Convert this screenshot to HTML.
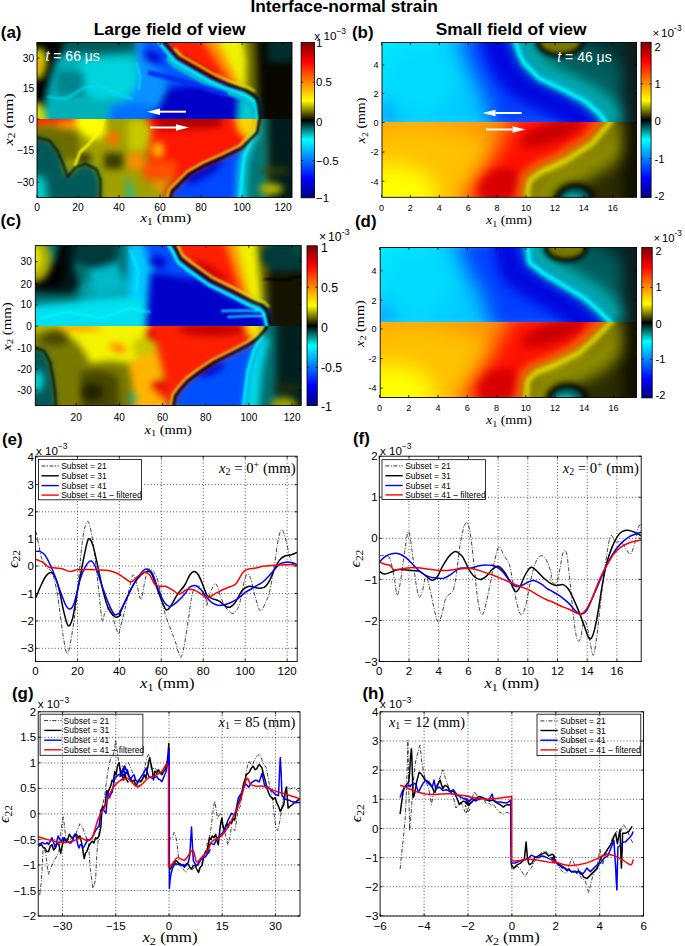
<!DOCTYPE html>
<html><head><meta charset="utf-8"><style>
html,body{margin:0;padding:0;background:#fff;width:685px;height:946px;overflow:hidden}
svg{display:block}
</style></head><body>
<svg width="685" height="946" viewBox="0 0 685 946"><defs><clipPath id="cl1"><rect x="37" y="42.5" width="255" height="76.6"/></clipPath><filter id="bl3_5" x="-20%" y="-20%" width="140%" height="140%" color-interpolation-filters="sRGB"><feGaussianBlur stdDeviation="3.5"/></filter><filter id="bl1_0" x="-20%" y="-20%" width="140%" height="140%" color-interpolation-filters="sRGB"><feGaussianBlur stdDeviation="1.0"/></filter><clipPath id="cl2"><rect x="37" y="119.1" width="255" height="78.4"/></clipPath><linearGradient id="cb1" x1="0" y1="0" x2="0" y2="1"><stop offset="0.0000" stop-color="#800000"/><stop offset="0.1250" stop-color="#ff0000"/><stop offset="0.3750" stop-color="#ffff00"/><stop offset="0.5000" stop-color="#000000"/><stop offset="0.6250" stop-color="#00ffff"/><stop offset="0.8750" stop-color="#0000ff"/><stop offset="1.0000" stop-color="#000080"/></linearGradient><clipPath id="cl3"><rect x="382" y="42.5" width="254.5" height="79.5"/></clipPath><filter id="bl10" x="-20%" y="-20%" width="140%" height="140%" color-interpolation-filters="sRGB"><feGaussianBlur stdDeviation="10"/></filter><filter id="bl6" x="-20%" y="-20%" width="140%" height="140%" color-interpolation-filters="sRGB"><feGaussianBlur stdDeviation="6"/></filter><filter id="bl7" x="-20%" y="-20%" width="140%" height="140%" color-interpolation-filters="sRGB"><feGaussianBlur stdDeviation="7"/></filter><filter id="bl2_5" x="-20%" y="-20%" width="140%" height="140%" color-interpolation-filters="sRGB"><feGaussianBlur stdDeviation="2.5"/></filter><filter id="bl2" x="-20%" y="-20%" width="140%" height="140%" color-interpolation-filters="sRGB"><feGaussianBlur stdDeviation="2"/></filter><filter id="bl0_8" x="-20%" y="-20%" width="140%" height="140%" color-interpolation-filters="sRGB"><feGaussianBlur stdDeviation="0.8"/></filter><clipPath id="cl4"><rect x="382" y="122.0" width="254.5" height="75.30000000000001"/></clipPath><filter id="bl5" x="-20%" y="-20%" width="140%" height="140%" color-interpolation-filters="sRGB"><feGaussianBlur stdDeviation="5"/></filter><filter id="bl4" x="-20%" y="-20%" width="140%" height="140%" color-interpolation-filters="sRGB"><feGaussianBlur stdDeviation="4"/></filter><filter id="bl3" x="-20%" y="-20%" width="140%" height="140%" color-interpolation-filters="sRGB"><feGaussianBlur stdDeviation="3"/></filter><linearGradient id="cb2" x1="0" y1="0" x2="0" y2="1"><stop offset="0.0000" stop-color="#800000"/><stop offset="0.1250" stop-color="#ff0000"/><stop offset="0.3750" stop-color="#ffff00"/><stop offset="0.5000" stop-color="#000000"/><stop offset="0.6250" stop-color="#00ffff"/><stop offset="0.8750" stop-color="#0000ff"/><stop offset="1.0000" stop-color="#000080"/></linearGradient><clipPath id="cl5"><rect x="35.3" y="245.6" width="265.9" height="80.4"/></clipPath><clipPath id="cl6"><rect x="35.3" y="326.0" width="265.9" height="79.5"/></clipPath><linearGradient id="cb3" x1="0" y1="0" x2="0" y2="1"><stop offset="0.0000" stop-color="#800000"/><stop offset="0.1250" stop-color="#ff0000"/><stop offset="0.3750" stop-color="#ffff00"/><stop offset="0.5000" stop-color="#000000"/><stop offset="0.6250" stop-color="#00ffff"/><stop offset="0.8750" stop-color="#0000ff"/><stop offset="1.0000" stop-color="#000080"/></linearGradient><clipPath id="cl7"><rect x="380.2" y="247.5" width="256.3" height="74.39999999999998"/></clipPath><clipPath id="cl8"><rect x="380.2" y="321.9" width="256.3" height="75.60000000000002"/></clipPath><linearGradient id="cb4" x1="0" y1="0" x2="0" y2="1"><stop offset="0.0000" stop-color="#800000"/><stop offset="0.1250" stop-color="#ff0000"/><stop offset="0.3750" stop-color="#ffff00"/><stop offset="0.5000" stop-color="#000000"/><stop offset="0.6250" stop-color="#00ffff"/><stop offset="0.8750" stop-color="#0000ff"/><stop offset="1.0000" stop-color="#000080"/></linearGradient><clipPath id="cl9"><rect x="35.5" y="456.2" width="261.7" height="205.3"/></clipPath><clipPath id="cl10"><rect x="379.3" y="456.2" width="261.90000000000003" height="205.3"/></clipPath><clipPath id="cl11"><rect x="38.2" y="711.8" width="261.8" height="204.20000000000005"/></clipPath><clipPath id="cl12"><rect x="380.1" y="711.8" width="263.4" height="204.20000000000005"/></clipPath></defs><text x="250.50" y="12.30" font-size="17.3" text-anchor="start" font-weight="bold" font-style="normal" font-family="Liberation Sans, sans-serif" fill="#000" >Interface-normal strain</text>
<text x="93.70" y="34.70" font-size="17.4" text-anchor="start" font-weight="bold" font-style="normal" font-family="Liberation Sans, sans-serif" fill="#000" >Large field of view</text>
<text x="435.70" y="35.10" font-size="17.4" text-anchor="start" font-weight="bold" font-style="normal" font-family="Liberation Sans, sans-serif" fill="#000" >Small field of view</text>
<text x="0.80" y="37.50" font-size="16.9" text-anchor="start" font-weight="bold" font-style="normal" font-family="Liberation Sans, sans-serif" fill="#000" >(a)</text>
<g clip-path="url(#cl1)"><g filter="url(#bl3_5)"><rect x="25" y="30.5" width="279" height="100.6" fill="#00b0b8"/><polygon points="55,30.5 150,30.5 150,50 100,54 55,53" fill="#005a5a"/><polygon points="80,62 120,58 136,62 140,90 125,99 95,99 78,86" fill="#00d4dc"/><polygon points="56,70 84,72 84,95 56,95" fill="#00848c"/><polygon points="25,30.5 63,30.5 62,52 55,62 50,78 47,90 45,100 44,112 44,131.1 25,131.1" fill="#000000"/><polygon points="25,50 42,48 47,56 46,68 42,78 25,80" fill="#d2d200"/><polygon points="25,59 39,59 40,66 38,73 25,73" fill="#ff8c00"/><polygon points="25,103 40,102 45,112 47,131.1 25,131.1" fill="#dcdc00"/><polygon points="134,30.5 150,30.5 160,60 166,85 150,131.1 104,131.1 110,106 128,99 138,82 137,60" fill="#0a90ff"/><polygon points="143,30.5 161,38.5 172.5,52 178,58 193,66.6 212,77.4 228,84.5 245.5,90.4 252,94 256.7,97.9 258.5,107 260.4,122.1 140,131.1 140,112 160,106 168,92 165,76 152,64 143,52" fill="#0058ff"/><polygon points="110,131.1 112,108 130,104 148,104 150,131.1" fill="#0070ff"/><ellipse cx="153" cy="57" rx="10" ry="5" fill="#0000d0" transform="rotate(20 153 57)"/><polygon points="168,88 200,84 236,95 245,110 245,131.1 150,131.1 158,110" fill="#0000c8"/><polygon points="158,30.5 202,30.5 240,86 245.5,90.4 228,84.5 212,77.4 193,66.6 178,58 172.5,52 161,38.5" fill="#ff2000"/><polygon points="196,30.5 214,30.5 244,82 240,88 232,85" fill="#ff9000"/><polygon points="212,30.5 246,30.5 248,60 247,93 241,88" fill="#f0f000"/><polygon points="242,30.5 258,30.5 258,99 246,94 247,60" fill="#6a6a00"/><polygon points="256,30.5 304,30.5 304,131.1 260,131.1 258,99" fill="#080800"/><rect x="268" y="30.5" width="36" height="31.5" fill="#002e2e"/><polygon points="238,96 256,99 259,131.1 236,131.1" fill="#00c8d0"/></g><g filter="url(#bl1_0)"><polyline points="183,56 200,66 214,74" fill="none" stroke="#d00000" stroke-width="5" stroke-linejoin="round" stroke-linecap="round"/><polyline points="168.5,59 174,65 189,73.6 208,84.4 224,91.5 241.5,97.4 248,101 252.7,104.9" fill="none" stroke="#00b8d8" stroke-width="5" stroke-linejoin="round" stroke-linecap="round"/><polyline points="158.5,42.1 170.0,55.6 175.5,61.6 190.5,70.19999999999999 209.5,81.0 225.5,88.1 243.0,94.0 249.5,97.6 254.2,101.5 256,104 257,121.1" fill="none" stroke="#00ffff" stroke-width="2.6" stroke-linejoin="round" stroke-linecap="round"/><polyline points="174.7,48.8 180.2,54.8 195.2,63.39999999999999 214.2,74.2 230.2,81.3 247.7,87.2 254.2,90.8" fill="none" stroke="#f0e000" stroke-width="2.0" stroke-linejoin="round" stroke-linecap="round"/><polyline points="150,73 175,79 200,86 225,94" fill="none" stroke="#0030f0" stroke-width="5" stroke-linejoin="round" stroke-linecap="round"/><polyline points="48,97 65.5,99 84.4,87.5 99.6,85.7 116.7,93.2 131.9,99" fill="none" stroke="#00e0ff" stroke-width="1.6" stroke-linejoin="round" stroke-linecap="round"/><polyline points="136,62 140,75 139,89" fill="none" stroke="#00e0ff" stroke-width="1.6" stroke-linejoin="round" stroke-linecap="round"/><polyline points="161,38.5 172.5,52 178,58 193,66.6 212,77.4 228,84.5 245.5,90.4 252,94 256.7,97.9 258.5,107 260.4,122.1" fill="none" stroke="#000000" stroke-width="2.4" stroke-linejoin="round" stroke-linecap="round"/></g></g>
<g clip-path="url(#cl2)"><g filter="url(#bl3_5)"><rect x="25" y="107.1" width="279" height="102.4" fill="#a0a000"/><polygon points="25,107.1 90,107.1 80,123 57,124 25,126" fill="#ff2a00"/><polygon points="57,123 90,117.1 100,117.1 95,127 80,129 57,129" fill="#ff9a00"/><polygon points="25,128 60,128 78,132 80,150 72,160 60,160 25,150" fill="#6e6e00"/><ellipse cx="84" cy="158" rx="8" ry="4" fill="#202000" transform="rotate(0 84 158)"/><polygon points="25,136.4 49.3,140.5 57.4,150.7 63.6,165.1 67.7,177.3 75.8,167.1 86,164 96.3,169.2 100.4,179.4 100.4,209.5 25,209.5" fill="#005a5a"/><polygon points="25,172 45,178 50,209.5 25,209.5" fill="#00c8c8"/><polygon points="74,107.1 104,107.1 106,132 100,140 88,138 78,130" fill="#ffff00"/><polygon points="106,133 117,131 120,142 110,147" fill="#ff7000"/><polygon points="128,120 150,120 152,150 128,150" fill="#c8c800"/><polygon points="104,153 123,153 123,169 104,169" fill="#3c3c00"/><polygon points="140,107.1 261,107.1 259.5,119.4 257.3,132.5 242,148 224.4,156.6 204.7,165.4 189.4,174.1 178.5,185.1 171.9,191.7 169.7,200.5 168,209.5 165,190 176,178 150,170 148,150 152,130" fill="#ff1800"/><polygon points="150,107.1 225,107.1 220,128 160,130" fill="#b40000"/><polygon points="128,153 143,153 143,169 128,169" fill="#ff8c00"/><polygon points="143,163 176,160 176,180 143,180" fill="#ff5000"/><ellipse cx="158" cy="150" rx="6" ry="8" fill="#ffc000" transform="rotate(0 158 150)"/><ellipse cx="160" cy="186" rx="6" ry="5" fill="#ff9000" transform="rotate(0 160 186)"/><polygon points="232,107.1 259,107.1 257,132 248,140 238,132" fill="#ffd000"/><polygon points="260,116.1 259.5,119.4 257.3,132.5 242,148 224.4,156.6 204.7,165.4 189.4,174.1 178.5,185.1 171.9,191.7 169.7,200.5 236,209.5 238,165 242,150 258,128" fill="#0048ff"/><polygon points="258,128 242,150 238,165 236,209.5 246,209.5 247,165 252,148 259,135" fill="#00d8f0"/><polygon points="185,178 215,162 225,158 215,172 190,185" fill="#0000c8"/><polygon points="258,107.1 268,107.1 266,209.5 246,209.5 247,165 252,148 259,135" fill="#007878"/><rect x="268" y="107.1" width="36" height="102.4" fill="#001c1c"/><ellipse cx="271" cy="189" rx="12" ry="6" fill="#b4b400" transform="rotate(0 271 189)"/><ellipse cx="275" cy="171" rx="15" ry="3" fill="#404000" transform="rotate(0 275 171)"/><ellipse cx="128" cy="183" rx="3" ry="3" fill="#00c0c0" transform="rotate(0 128 183)"/><ellipse cx="130" cy="193" rx="4" ry="5" fill="#00c0c0" transform="rotate(0 130 193)"/></g><g filter="url(#bl1_0)"><polyline points="257.5,113.6 257.0,116.9 254.8,130.0 239.5,145.5 221.9,154.1 202.2,162.9 186.9,171.6 176.0,182.6 169.4,189.2 167.2,198.0" fill="none" stroke="#ffe000" stroke-width="1.8" stroke-linejoin="round" stroke-linecap="round"/><polyline points="104,119.1 100,130 88,145 80,152 75,165" fill="none" stroke="#ffff00" stroke-width="2.5" stroke-linejoin="round" stroke-linecap="round"/><polyline points="252,140 244,156 240,199.5" fill="none" stroke="#00ffff" stroke-width="2.0" stroke-linejoin="round" stroke-linecap="round"/><polyline points="260,116.1 259.5,119.4 257.3,132.5 242,148 224.4,156.6 204.7,165.4 189.4,174.1 178.5,185.1 171.9,191.7 169.7,200.5" fill="none" stroke="#000000" stroke-width="2.4" stroke-linejoin="round" stroke-linecap="round"/><polyline points="35,137 49.3,140.5 57.4,150.7 63.6,165.1 67.7,177.3 75.8,167.1 86,164 96.3,169.2 100.4,179.4 100.4,199.5" fill="none" stroke="#000000" stroke-width="1.6" stroke-linejoin="round" stroke-linecap="round"/></g></g>
<text x="45.5" y="61.3" font-size="14" font-family="Liberation Sans, sans-serif" fill="#fff"><tspan font-style="italic">t</tspan> = 66 μs</text>
<line x1="186" y1="111.7" x2="160" y2="111.7" stroke="#fff" stroke-width="2.0"/>
<polygon points="147,111.7 160,108.5 160,114.9" fill="#fff"/>
<line x1="150" y1="127.5" x2="176" y2="127.5" stroke="#fff" stroke-width="2.0"/>
<polygon points="189,127.5 176,124.3 176,130.7" fill="#fff"/>
<rect x="37" y="42.5" width="255" height="155.0" fill="none" stroke="#000" stroke-width="0.9"/>
<line x1="37.0" y1="197.5" x2="37.0" y2="195.0" stroke="#000" stroke-width="0.8"/>
<line x1="37.0" y1="42.5" x2="37.0" y2="45.0" stroke="#000" stroke-width="0.8"/>
<line x1="78.02000000000001" y1="197.5" x2="78.02000000000001" y2="195.0" stroke="#000" stroke-width="0.8"/>
<line x1="78.02000000000001" y1="42.5" x2="78.02000000000001" y2="45.0" stroke="#000" stroke-width="0.8"/>
<line x1="119.04" y1="197.5" x2="119.04" y2="195.0" stroke="#000" stroke-width="0.8"/>
<line x1="119.04" y1="42.5" x2="119.04" y2="45.0" stroke="#000" stroke-width="0.8"/>
<line x1="160.06" y1="197.5" x2="160.06" y2="195.0" stroke="#000" stroke-width="0.8"/>
<line x1="160.06" y1="42.5" x2="160.06" y2="45.0" stroke="#000" stroke-width="0.8"/>
<line x1="201.08" y1="197.5" x2="201.08" y2="195.0" stroke="#000" stroke-width="0.8"/>
<line x1="201.08" y1="42.5" x2="201.08" y2="45.0" stroke="#000" stroke-width="0.8"/>
<line x1="242.10000000000002" y1="197.5" x2="242.10000000000002" y2="195.0" stroke="#000" stroke-width="0.8"/>
<line x1="242.10000000000002" y1="42.5" x2="242.10000000000002" y2="45.0" stroke="#000" stroke-width="0.8"/>
<line x1="283.12" y1="197.5" x2="283.12" y2="195.0" stroke="#000" stroke-width="0.8"/>
<line x1="283.12" y1="42.5" x2="283.12" y2="45.0" stroke="#000" stroke-width="0.8"/>
<line x1="37" y1="58.0" x2="39.5" y2="58.0" stroke="#000" stroke-width="0.8"/>
<line x1="292" y1="58.0" x2="289.5" y2="58.0" stroke="#000" stroke-width="0.8"/>
<line x1="37" y1="88.6" x2="39.5" y2="88.6" stroke="#000" stroke-width="0.8"/>
<line x1="292" y1="88.6" x2="289.5" y2="88.6" stroke="#000" stroke-width="0.8"/>
<line x1="37" y1="119.1" x2="39.5" y2="119.1" stroke="#000" stroke-width="0.8"/>
<line x1="292" y1="119.1" x2="289.5" y2="119.1" stroke="#000" stroke-width="0.8"/>
<line x1="37" y1="150.6" x2="39.5" y2="150.6" stroke="#000" stroke-width="0.8"/>
<line x1="292" y1="150.6" x2="289.5" y2="150.6" stroke="#000" stroke-width="0.8"/>
<line x1="37" y1="182.1" x2="39.5" y2="182.1" stroke="#000" stroke-width="0.8"/>
<line x1="292" y1="182.1" x2="289.5" y2="182.1" stroke="#000" stroke-width="0.8"/>
<text x="34.30" y="61.69" font-size="10.3" text-anchor="end" font-weight="normal" font-style="normal" font-family="Liberation Sans, sans-serif" fill="#000" >30</text>
<text x="34.30" y="92.29" font-size="10.3" text-anchor="end" font-weight="normal" font-style="normal" font-family="Liberation Sans, sans-serif" fill="#000" >15</text>
<text x="34.30" y="122.79" font-size="10.3" text-anchor="end" font-weight="normal" font-style="normal" font-family="Liberation Sans, sans-serif" fill="#000" >0</text>
<text x="34.30" y="154.29" font-size="10.3" text-anchor="end" font-weight="normal" font-style="normal" font-family="Liberation Sans, sans-serif" fill="#000" >−15</text>
<text x="34.30" y="185.79" font-size="10.3" text-anchor="end" font-weight="normal" font-style="normal" font-family="Liberation Sans, sans-serif" fill="#000" >−30</text>
<text x="37.00" y="210.59" font-size="10.3" text-anchor="middle" font-weight="normal" font-style="normal" font-family="Liberation Sans, sans-serif" fill="#000" >0</text>
<text x="78.02" y="210.59" font-size="10.3" text-anchor="middle" font-weight="normal" font-style="normal" font-family="Liberation Sans, sans-serif" fill="#000" >20</text>
<text x="119.04" y="210.59" font-size="10.3" text-anchor="middle" font-weight="normal" font-style="normal" font-family="Liberation Sans, sans-serif" fill="#000" >40</text>
<text x="160.06" y="210.59" font-size="10.3" text-anchor="middle" font-weight="normal" font-style="normal" font-family="Liberation Sans, sans-serif" fill="#000" >60</text>
<text x="201.08" y="210.59" font-size="10.3" text-anchor="middle" font-weight="normal" font-style="normal" font-family="Liberation Sans, sans-serif" fill="#000" >80</text>
<text x="242.10" y="210.59" font-size="10.3" text-anchor="middle" font-weight="normal" font-style="normal" font-family="Liberation Sans, sans-serif" fill="#000" >100</text>
<text x="283.12" y="210.59" font-size="10.3" text-anchor="middle" font-weight="normal" font-style="normal" font-family="Liberation Sans, sans-serif" fill="#000" >120</text>
<text x="140.20" y="222.30" font-size="13.5" font-family="Liberation Serif, serif" text-anchor="start" textLength="51.1" lengthAdjust="spacingAndGlyphs"><tspan font-style="italic">x</tspan><tspan font-size="9.72" dy="2.70">1</tspan><tspan dy="-2.70"> (mm)</tspan></text>
<text x="12.60" y="145.40" font-size="13.5" font-family="Liberation Serif, serif" text-anchor="start" transform="rotate(-90 12.6 145.4)" textLength="52.2" lengthAdjust="spacingAndGlyphs"><tspan font-style="italic">x</tspan><tspan font-size="9.72" dy="2.70">2</tspan><tspan dy="-2.70"> (mm)</tspan></text>
<rect x="301.1" y="42.5" width="13.5" height="155.3" fill="url(#cb1)" stroke="#000" stroke-width="0.8"/>
<line x1="301.1" y1="45.0" x2="303.1" y2="45.0" stroke="#000" stroke-width="0.8"/>
<line x1="314.6" y1="45.0" x2="312.6" y2="45.0" stroke="#000" stroke-width="0.8"/>
<line x1="301.1" y1="82.2" x2="303.1" y2="82.2" stroke="#000" stroke-width="0.8"/>
<line x1="314.6" y1="82.2" x2="312.6" y2="82.2" stroke="#000" stroke-width="0.8"/>
<line x1="301.1" y1="121.4" x2="303.1" y2="121.4" stroke="#000" stroke-width="0.8"/>
<line x1="314.6" y1="121.4" x2="312.6" y2="121.4" stroke="#000" stroke-width="0.8"/>
<line x1="301.1" y1="160.5" x2="303.1" y2="160.5" stroke="#000" stroke-width="0.8"/>
<line x1="314.6" y1="160.5" x2="312.6" y2="160.5" stroke="#000" stroke-width="0.8"/>
<text x="316.00" y="47.22" font-size="11.5" text-anchor="start" font-weight="normal" font-style="normal" font-family="Liberation Sans, sans-serif" fill="#000" >1</text>
<text x="316.00" y="86.32" font-size="11.5" text-anchor="start" font-weight="normal" font-style="normal" font-family="Liberation Sans, sans-serif" fill="#000" >0.5</text>
<text x="316.00" y="125.52" font-size="11.5" text-anchor="start" font-weight="normal" font-style="normal" font-family="Liberation Sans, sans-serif" fill="#000" >0</text>
<text x="316.00" y="164.62" font-size="11.5" text-anchor="start" font-weight="normal" font-style="normal" font-family="Liberation Sans, sans-serif" fill="#000" >−0.5</text>
<text x="316.00" y="201.72" font-size="11.5" text-anchor="start" font-weight="normal" font-style="normal" font-family="Liberation Sans, sans-serif" fill="#000" >−1</text>
<text x="314.30" y="39.60" font-size="11.7" font-family="Liberation Sans, sans-serif">x 10<tspan font-size="8.42" dy="-5.85">−3</tspan></text>
<text x="352.00" y="37.60" font-size="16.9" text-anchor="start" font-weight="bold" font-style="normal" font-family="Liberation Sans, sans-serif" fill="#000" >(b)</text>
<g clip-path="url(#cl3)"><g filter="url(#bl10)"><rect x="368" y="28.5" width="282.5" height="107.5" fill="#00c8ff"/><ellipse cx="387" cy="47.5" rx="50" ry="38" fill="#00f0ff" transform="rotate(0 387 47.5)"/><ellipse cx="417" cy="77.5" rx="40" ry="40" fill="#00dcff" transform="rotate(0 417 77.5)"/><polygon points="458,28.5 515,28.5 515,40 520,55 524,63 539,78 562,89 585,101 600,114 605.5,122 607,126 607,136.0 496,136.0 483,92.0 468,62.5" fill="#0040ff"/><ellipse cx="385" cy="116.0" rx="8" ry="9" fill="#0078ff" transform="rotate(0 385 116.0)"/></g><g filter="url(#bl6)"><polyline points="493,37.5 504,65 508,73 523,88 546,99 569,111 584,124 589.5,132 591,136" fill="none" stroke="#0008e0" stroke-width="26" stroke-linejoin="round" stroke-linecap="round"/></g><g filter="url(#bl7)"><polygon points="515,28.5 515,40 520,55 524,63 539,78 562,89 585,101 600,114 605.5,122 607,126 607,136.0 650.5,136.0 650.5,28.5" fill="#003232"/><polyline points="541,22 546,37 550,45 565,60 588,71 611,83 626,96 631.5,104 633,108" fill="none" stroke="#005c5c" stroke-width="44" stroke-linejoin="round" stroke-linecap="round"/><polyline points="524,34 529,49 533,57 548,72 571,83 594,95 609,108 614.5,116 616,120" fill="none" stroke="#00b4b4" stroke-width="16" stroke-linejoin="round" stroke-linecap="round"/><rect x="622.5" y="28.5" width="28.0" height="107.5" fill="#0c1c1c"/></g><g filter="url(#bl2_5)"><ellipse cx="560" cy="42" rx="24" ry="15" fill="#000" transform="rotate(0 560 42)"/></g><g filter="url(#bl2)"><ellipse cx="560" cy="42" rx="20" ry="11" fill="#767600" transform="rotate(0 560 42)"/><polyline points="515,40 520,55 524,63 539,78 562,89 585,101 600,114 605.5,122 607,126" fill="none" stroke="#00e8e8" stroke-width="5" stroke-linejoin="round" stroke-linecap="round"/></g><g filter="url(#bl0_8)"><polyline points="515,40 520,55 524,63 539,78 562,89 585,101 600,114 605.5,122 607,126" fill="none" stroke="#00ffff" stroke-width="1.8" stroke-linejoin="round" stroke-linecap="round"/></g></g>
<g clip-path="url(#cl4)"><g filter="url(#bl10)"><rect x="368" y="108.0" width="282.5" height="103.30000000000001" fill="#ff9200"/><ellipse cx="412" cy="172.3" rx="95" ry="50" fill="#ffc000" transform="rotate(0 412 172.3)"/><ellipse cx="392" cy="192.3" rx="45" ry="28" fill="#ffff00" transform="rotate(0 392 192.3)"/><polygon points="460,205 503,140 516,108 612,108 612,120 592.1,143.5 564.7,161.1 539.3,172.8 529.5,180.6 527.5,190 527,200 527,211.3" fill="#ff1000"/></g><g filter="url(#bl5)"><ellipse cx="552.1" cy="132.0" rx="34" ry="10" fill="#c80000" transform="rotate(-20 552.1 132.0)"/><ellipse cx="499.5" cy="185.3" rx="22" ry="16" fill="#d80000" transform="rotate(-30 499.5 185.3)"/></g><g filter="url(#bl4)"><polyline points="607,117 587.1,140.5 559.7,158.1 534.3,169.8 524.5,177.6 522.5,187 522,197" fill="none" stroke="#ff8000" stroke-width="8" stroke-linejoin="round" stroke-linecap="round"/></g><g filter="url(#bl3)"><polyline points="616,122 596.1,145.5 568.7,163.1 543.3,174.8 533.5,182.6 531.5,192 531,202" fill="none" stroke="#d8d800" stroke-width="9" stroke-linejoin="round" stroke-linecap="round"/></g><g filter="url(#bl7)"><polygon points="612,108.0 612,120 592.1,143.5 564.7,161.1 539.3,172.8 529.5,180.6 527.5,190 527,200 527,211.3 650.5,211.3 650.5,108.0" fill="#2c2c00"/><polyline points="627,129 607.1,152.5 579.7,170.1 554.3,181.8 544.5,189.6 542.5,199 542,209" fill="none" stroke="#8c8c00" stroke-width="26" stroke-linejoin="round" stroke-linecap="round"/><rect x="622.5" y="108.0" width="28.0" height="103.30000000000001" fill="#101000"/></g><g filter="url(#bl3)"><ellipse cx="575" cy="199" rx="20" ry="16" fill="#000" transform="rotate(0 575 199)"/></g><g filter="url(#bl2)"><ellipse cx="575" cy="199" rx="15" ry="11" fill="#006464" transform="rotate(0 575 199)"/><ellipse cx="573" cy="199" rx="9" ry="4" fill="#00c8c8" transform="rotate(0 573 199)"/><polyline points="612,120 592.1,143.5 564.7,161.1 539.3,172.8 529.5,180.6 527.5,190 527,200" fill="none" stroke="#f0f000" stroke-width="3.5" stroke-linejoin="round" stroke-linecap="round"/></g></g>
<text x="557.3" y="61.5" font-size="14" font-family="Liberation Sans, sans-serif" fill="#fff"><tspan font-style="italic">t</tspan> = 46 μs</text>
<line x1="521.6" y1="113.0" x2="495.5" y2="113.0" stroke="#fff" stroke-width="2.0"/>
<polygon points="482.5,113.0 495.5,109.8 495.5,116.2" fill="#fff"/>
<line x1="486" y1="129.5" x2="512.6" y2="129.5" stroke="#fff" stroke-width="2.0"/>
<polygon points="525.6,129.5 512.6,126.3 512.6,132.7" fill="#fff"/>
<rect x="382" y="42.5" width="254.5" height="154.8" fill="none" stroke="#000" stroke-width="0.9"/>
<line x1="381.5" y1="197.3" x2="381.5" y2="194.8" stroke="#000" stroke-width="0.8"/>
<line x1="381.5" y1="42.5" x2="381.5" y2="45.0" stroke="#000" stroke-width="0.8"/>
<line x1="410.4" y1="197.3" x2="410.4" y2="194.8" stroke="#000" stroke-width="0.8"/>
<line x1="410.4" y1="42.5" x2="410.4" y2="45.0" stroke="#000" stroke-width="0.8"/>
<line x1="439.3" y1="197.3" x2="439.3" y2="194.8" stroke="#000" stroke-width="0.8"/>
<line x1="439.3" y1="42.5" x2="439.3" y2="45.0" stroke="#000" stroke-width="0.8"/>
<line x1="468.2" y1="197.3" x2="468.2" y2="194.8" stroke="#000" stroke-width="0.8"/>
<line x1="468.2" y1="42.5" x2="468.2" y2="45.0" stroke="#000" stroke-width="0.8"/>
<line x1="497.1" y1="197.3" x2="497.1" y2="194.8" stroke="#000" stroke-width="0.8"/>
<line x1="497.1" y1="42.5" x2="497.1" y2="45.0" stroke="#000" stroke-width="0.8"/>
<line x1="526.0" y1="197.3" x2="526.0" y2="194.8" stroke="#000" stroke-width="0.8"/>
<line x1="526.0" y1="42.5" x2="526.0" y2="45.0" stroke="#000" stroke-width="0.8"/>
<line x1="554.9" y1="197.3" x2="554.9" y2="194.8" stroke="#000" stroke-width="0.8"/>
<line x1="554.9" y1="42.5" x2="554.9" y2="45.0" stroke="#000" stroke-width="0.8"/>
<line x1="583.8" y1="197.3" x2="583.8" y2="194.8" stroke="#000" stroke-width="0.8"/>
<line x1="583.8" y1="42.5" x2="583.8" y2="45.0" stroke="#000" stroke-width="0.8"/>
<line x1="612.7" y1="197.3" x2="612.7" y2="194.8" stroke="#000" stroke-width="0.8"/>
<line x1="612.7" y1="42.5" x2="612.7" y2="45.0" stroke="#000" stroke-width="0.8"/>
<line x1="382" y1="64.9" x2="384.5" y2="64.9" stroke="#000" stroke-width="0.8"/>
<line x1="636.5" y1="64.9" x2="634.0" y2="64.9" stroke="#000" stroke-width="0.8"/>
<line x1="382" y1="93.5" x2="384.5" y2="93.5" stroke="#000" stroke-width="0.8"/>
<line x1="636.5" y1="93.5" x2="634.0" y2="93.5" stroke="#000" stroke-width="0.8"/>
<line x1="382" y1="122.5" x2="384.5" y2="122.5" stroke="#000" stroke-width="0.8"/>
<line x1="636.5" y1="122.5" x2="634.0" y2="122.5" stroke="#000" stroke-width="0.8"/>
<line x1="382" y1="152.1" x2="384.5" y2="152.1" stroke="#000" stroke-width="0.8"/>
<line x1="636.5" y1="152.1" x2="634.0" y2="152.1" stroke="#000" stroke-width="0.8"/>
<line x1="382" y1="181.3" x2="384.5" y2="181.3" stroke="#000" stroke-width="0.8"/>
<line x1="636.5" y1="181.3" x2="634.0" y2="181.3" stroke="#000" stroke-width="0.8"/>
<text x="378.50" y="68.16" font-size="9.1" text-anchor="end" font-weight="normal" font-style="normal" font-family="Liberation Sans, sans-serif" fill="#000" >4</text>
<text x="378.50" y="96.76" font-size="9.1" text-anchor="end" font-weight="normal" font-style="normal" font-family="Liberation Sans, sans-serif" fill="#000" >2</text>
<text x="378.50" y="125.76" font-size="9.1" text-anchor="end" font-weight="normal" font-style="normal" font-family="Liberation Sans, sans-serif" fill="#000" >0</text>
<text x="378.50" y="155.36" font-size="9.1" text-anchor="end" font-weight="normal" font-style="normal" font-family="Liberation Sans, sans-serif" fill="#000" >-2</text>
<text x="378.50" y="184.56" font-size="9.1" text-anchor="end" font-weight="normal" font-style="normal" font-family="Liberation Sans, sans-serif" fill="#000" >-4</text>
<text x="381.50" y="210.86" font-size="9.1" text-anchor="middle" font-weight="normal" font-style="normal" font-family="Liberation Sans, sans-serif" fill="#000" >0</text>
<text x="410.40" y="210.86" font-size="9.1" text-anchor="middle" font-weight="normal" font-style="normal" font-family="Liberation Sans, sans-serif" fill="#000" >2</text>
<text x="439.30" y="210.86" font-size="9.1" text-anchor="middle" font-weight="normal" font-style="normal" font-family="Liberation Sans, sans-serif" fill="#000" >4</text>
<text x="468.20" y="210.86" font-size="9.1" text-anchor="middle" font-weight="normal" font-style="normal" font-family="Liberation Sans, sans-serif" fill="#000" >6</text>
<text x="497.10" y="210.86" font-size="9.1" text-anchor="middle" font-weight="normal" font-style="normal" font-family="Liberation Sans, sans-serif" fill="#000" >8</text>
<text x="526.00" y="210.86" font-size="9.1" text-anchor="middle" font-weight="normal" font-style="normal" font-family="Liberation Sans, sans-serif" fill="#000" >10</text>
<text x="554.90" y="210.86" font-size="9.1" text-anchor="middle" font-weight="normal" font-style="normal" font-family="Liberation Sans, sans-serif" fill="#000" >12</text>
<text x="583.80" y="210.86" font-size="9.1" text-anchor="middle" font-weight="normal" font-style="normal" font-family="Liberation Sans, sans-serif" fill="#000" >14</text>
<text x="612.70" y="210.86" font-size="9.1" text-anchor="middle" font-weight="normal" font-style="normal" font-family="Liberation Sans, sans-serif" fill="#000" >16</text>
<text x="485.90" y="224.00" font-size="12.5" font-family="Liberation Serif, serif" text-anchor="start" textLength="46" lengthAdjust="spacingAndGlyphs"><tspan font-style="italic">x</tspan><tspan font-size="9.00" dy="2.50">1</tspan><tspan dy="-2.50"> (mm)</tspan></text>
<text x="365.40" y="143.20" font-size="12.5" font-family="Liberation Serif, serif" text-anchor="start" transform="rotate(-90 365.4 143.2)" textLength="45.5" lengthAdjust="spacingAndGlyphs"><tspan font-style="italic">x</tspan><tspan font-size="9.00" dy="2.50">2</tspan><tspan dy="-2.50"> (mm)</tspan></text>
<rect x="641" y="42.3" width="10.100000000000023" height="155.3" fill="url(#cb2)" stroke="#000" stroke-width="0.8"/>
<line x1="641" y1="46.3" x2="643" y2="46.3" stroke="#000" stroke-width="0.8"/>
<line x1="651.1" y1="46.3" x2="649.1" y2="46.3" stroke="#000" stroke-width="0.8"/>
<line x1="641" y1="83.8" x2="643" y2="83.8" stroke="#000" stroke-width="0.8"/>
<line x1="651.1" y1="83.8" x2="649.1" y2="83.8" stroke="#000" stroke-width="0.8"/>
<line x1="641" y1="121.3" x2="643" y2="121.3" stroke="#000" stroke-width="0.8"/>
<line x1="651.1" y1="121.3" x2="649.1" y2="121.3" stroke="#000" stroke-width="0.8"/>
<line x1="641" y1="158.5" x2="643" y2="158.5" stroke="#000" stroke-width="0.8"/>
<line x1="651.1" y1="158.5" x2="649.1" y2="158.5" stroke="#000" stroke-width="0.8"/>
<text x="654.50" y="50.65" font-size="11.3" text-anchor="start" font-weight="normal" font-style="normal" font-family="Liberation Sans, sans-serif" fill="#000" >2</text>
<text x="654.50" y="87.85" font-size="11.3" text-anchor="start" font-weight="normal" font-style="normal" font-family="Liberation Sans, sans-serif" fill="#000" >1</text>
<text x="654.50" y="125.35" font-size="11.3" text-anchor="start" font-weight="normal" font-style="normal" font-family="Liberation Sans, sans-serif" fill="#000" >0</text>
<text x="654.50" y="162.55" font-size="11.3" text-anchor="start" font-weight="normal" font-style="normal" font-family="Liberation Sans, sans-serif" fill="#000" >-1</text>
<text x="654.50" y="199.65" font-size="11.3" text-anchor="start" font-weight="normal" font-style="normal" font-family="Liberation Sans, sans-serif" fill="#000" >-2</text>
<text x="652.50" y="37.20" font-size="11.7" font-family="Liberation Sans, sans-serif">×<tspan dx="1.75">10</tspan><tspan font-size="8.42" dy="-5.85">-3</tspan></text>
<text x="0.50" y="225.50" font-size="16.9" text-anchor="start" font-weight="bold" font-style="normal" font-family="Liberation Sans, sans-serif" fill="#000" >(c)</text>
<g clip-path="url(#cl5)"><g filter="url(#bl3_5)"><rect x="23.299999999999997" y="233.6" width="289.9" height="104.4" fill="#007070"/><polygon points="70,233.6 120,233.6 115,262 95,268 75,262" fill="#003a3a"/><polygon points="23.299999999999997,266 50,268 58,258 62,233.6 74,233.6 74,270 80,284 72,294 50,294 23.299999999999997,292" fill="#001818"/><polygon points="23.299999999999997,268 48,270 56,260 60,233.6 66,233.6 66,272 60,286 23.299999999999997,288" fill="#000000"/><ellipse cx="35.3" cy="260" rx="16" ry="22" fill="#b0b000" transform="rotate(0 35.3 260)"/><ellipse cx="32.3" cy="258" rx="8" ry="12" fill="#f0f000" transform="rotate(0 32.3 258)"/><polygon points="80,282 120,276 140,280 144,300 80,300" fill="#00a0a8"/><polygon points="23.299999999999997,306 70,302 110,298 150,296 152,338.0 23.299999999999997,338.0" fill="#00e0f0"/><polygon points="88,270 118,262 125,290 95,296" fill="#00b8c8"/><polygon points="128,233.6 168,233.6 160,290 150,300 128,296" fill="#00c8ff"/><polygon points="140,233.6 171,241.6 174.3,246 180.4,258.4 190.7,266.6 211,281 231.5,291 252,301.4 262,305.5 266.3,309.5 268.3,317.7 270.4,329.0 150,338.0 154,300 160,280 150,262" fill="#0050ff"/><ellipse cx="158" cy="262" rx="9" ry="6" fill="#0000c8" transform="rotate(0 158 262)"/><polygon points="150,272 200,280 245,305 262,312 268,338.0 145,338.0" fill="#0000c8"/><polygon points="166,233.6 234,233.6 250,296 252,301.4 231.5,291 211,281 190.7,266.6 180.4,258.4 174.3,246 171,241.6" fill="#ff2000"/><ellipse cx="210" cy="272" rx="20" ry="6" fill="#d40000" transform="rotate(30 210 272)"/><polygon points="222,233.6 236,233.6 252,290 250,300 242,294" fill="#ff9800"/><polygon points="234,233.6 258,233.6 262,300 262,305 250,300" fill="#f0f000"/><polygon points="256,233.6 271,233.6 271,312 266,309 262,300" fill="#606000"/><polygon points="268,270 313.2,270 313.2,338.0 269,338.0" fill="#141400"/><ellipse cx="286" cy="256" rx="26" ry="16" fill="#003a3a" transform="rotate(0 286 256)"/><ellipse cx="301.2" cy="247" rx="14" ry="8" fill="#004848" transform="rotate(0 301.2 247)"/></g><g filter="url(#bl1_0)"><polyline points="168.5,245.4 171.8,249.8 177.9,262.2 188.2,270.40000000000003 208.5,284.8 229.0,294.8 249.5,305.2 259.5,309.3 263.8,313.3 265.8,321.5 267.9,332.8" fill="none" stroke="#00ffff" stroke-width="3.2" stroke-linejoin="round" stroke-linecap="round"/><polyline points="176.5,242.8 182.6,255.2 192.89999999999998,263.40000000000003 213.2,277.8 233.7,287.8 254.2,298.2 264.2,302.3 268.5,306.3" fill="none" stroke="#f0e000" stroke-width="2.2" stroke-linejoin="round" stroke-linecap="round"/><polyline points="130,250 138,270 136,292" fill="none" stroke="#00ffff" stroke-width="1.6" stroke-linejoin="round" stroke-linecap="round"/><polyline points="222,311 240,310.5 258,311" fill="none" stroke="#20e8ff" stroke-width="2.2" stroke-linejoin="round" stroke-linecap="round"/><polyline points="228,317 248,316 264,316" fill="none" stroke="#20e8ff" stroke-width="1.8" stroke-linejoin="round" stroke-linecap="round"/><polyline points="40,318 70,312 100,318 130,308 150,312" fill="none" stroke="#00ffff" stroke-width="1.6" stroke-linejoin="round" stroke-linecap="round"/><polyline points="171,241.6 174.3,246 180.4,258.4 190.7,266.6 211,281 231.5,291 252,301.4 262,305.5 266.3,309.5 268.3,317.7 270.4,329.0" fill="none" stroke="#000" stroke-width="2.4" stroke-linejoin="round" stroke-linecap="round"/><polyline points="265,279 285,280 303.2,276" fill="none" stroke="#000" stroke-width="2.0" stroke-linejoin="round" stroke-linecap="round"/></g></g>
<g clip-path="url(#cl6)"><g filter="url(#bl3_5)"><rect x="23.299999999999997" y="314.0" width="289.9" height="103.5" fill="#b8b800"/><polygon points="60,314.0 152,314.0 150,350 128,362 110,360 90,362 84,350 70,338 60,332" fill="#f4f400"/><polygon points="23.299999999999997,332 60,334 75,340 84,352 90,364 110,362 128,364 134,385 134,417.5 23.299999999999997,417.5" fill="#7a7a00"/><polygon points="80,372 100,370 118,376 120,417.5 82,417.5" fill="#484800"/><ellipse cx="55" cy="338" rx="14" ry="8" fill="#4a4a00" transform="rotate(0 55 338)"/><ellipse cx="92" cy="392" rx="12" ry="9" fill="#242400" transform="rotate(0 92 392)"/><ellipse cx="80" cy="328" rx="22" ry="3" fill="#ff9000" transform="rotate(0 80 328)"/><ellipse cx="118" cy="348" rx="9" ry="4" fill="#ff8000" transform="rotate(15 118 348)"/><polygon points="23.299999999999997,346 44,350 50,362 53,378 55,392 56,417.5 23.299999999999997,417.5" fill="#005858"/><ellipse cx="37" cy="381" rx="7" ry="11" fill="#00d0d0" transform="rotate(0 37 381)"/><polygon points="128,364 150,350 160,355 166,417.5 134,417.5 132,380" fill="#ffb400"/><ellipse cx="144" cy="346" rx="12" ry="9" fill="#c8c800" transform="rotate(-20 144 346)"/><ellipse cx="160" cy="333" rx="14" ry="9" fill="#d00000" transform="rotate(0 160 333)"/><ellipse cx="160" cy="386" rx="9" ry="5" fill="#ff2000" transform="rotate(0 160 386)"/><ellipse cx="133" cy="398" rx="3" ry="6" fill="#00b0b0" transform="rotate(0 133 398)"/><polygon points="148,314.0 268,314.0 265,330 258,338 250,344 235,352 215,362 200,372 188,381 180,390 175,397 173,408.5 168,417.5 165,380 158,350" fill="#ff2000"/><ellipse cx="212" cy="330" rx="34" ry="6" fill="#c00000" transform="rotate(0 212 330)"/><ellipse cx="160" cy="385" rx="7" ry="4" fill="#d00000" transform="rotate(0 160 385)"/><ellipse cx="163" cy="394" rx="5" ry="3" fill="#ff0000" transform="rotate(0 163 394)"/><polygon points="240,314.0 268,314.0 266,332 256,341 248,336" fill="#ffe000"/><polygon points="268,323.0 265,330 258,338 250,344 235,352 215,362 200,372 188,381 180,390 175,397 173,408.5 243,417.5 248,370 254,350 262,336" fill="#0050ff"/><ellipse cx="212" cy="370" rx="14" ry="4" fill="#0000d0" transform="rotate(-25 212 370)"/><polygon points="262,314.0 280,314.0 280,417.5 243,417.5 248,370 254,350 262,336" fill="#007070"/><polygon points="262,336 254,350 248,370 243,417.5 258,417.5 262,372 266,352 270,338" fill="#00d8e8"/><rect x="276" y="314.0" width="37.19999999999999" height="103.5" fill="#002020"/><ellipse cx="284" cy="405" rx="13" ry="8" fill="#a0a000" transform="rotate(0 284 405)"/><ellipse cx="287" cy="387" rx="16" ry="3" fill="#303000" transform="rotate(0 287 387)"/></g><g filter="url(#bl1_0)"><polyline points="265.5,320.5 262.5,327.5 255.5,335.5 247.5,341.5 232.5,349.5 212.5,359.5 197.5,369.5 185.5,378.5 177.5,387.5 172.5,394.5 170.5,406.0" fill="none" stroke="#ffe000" stroke-width="1.8" stroke-linejoin="round" stroke-linecap="round"/><polyline points="262,336 254,350 248,370 243,407.5" fill="none" stroke="#00ffff" stroke-width="2.4" stroke-linejoin="round" stroke-linecap="round"/><polyline points="268,323.0 265,330 258,338 250,344 235,352 215,362 200,372 188,381 180,390 175,397 173,408.5" fill="none" stroke="#000" stroke-width="2.4" stroke-linejoin="round" stroke-linecap="round"/><polyline points="33.3,347 44,351 50,362 53,378 55,392 56,407.5" fill="none" stroke="#101000" stroke-width="2.0" stroke-linejoin="round" stroke-linecap="round"/></g></g>
<rect x="35.3" y="245.6" width="265.9" height="159.9" fill="none" stroke="#000" stroke-width="0.9"/>
<line x1="76.17999999999999" y1="405.5" x2="76.17999999999999" y2="403.0" stroke="#000" stroke-width="0.8"/>
<line x1="76.17999999999999" y1="245.6" x2="76.17999999999999" y2="248.1" stroke="#000" stroke-width="0.8"/>
<line x1="119.35999999999999" y1="405.5" x2="119.35999999999999" y2="403.0" stroke="#000" stroke-width="0.8"/>
<line x1="119.35999999999999" y1="245.6" x2="119.35999999999999" y2="248.1" stroke="#000" stroke-width="0.8"/>
<line x1="162.54" y1="405.5" x2="162.54" y2="403.0" stroke="#000" stroke-width="0.8"/>
<line x1="162.54" y1="245.6" x2="162.54" y2="248.1" stroke="#000" stroke-width="0.8"/>
<line x1="205.71999999999997" y1="405.5" x2="205.71999999999997" y2="403.0" stroke="#000" stroke-width="0.8"/>
<line x1="205.71999999999997" y1="245.6" x2="205.71999999999997" y2="248.1" stroke="#000" stroke-width="0.8"/>
<line x1="248.89999999999998" y1="405.5" x2="248.89999999999998" y2="403.0" stroke="#000" stroke-width="0.8"/>
<line x1="248.89999999999998" y1="245.6" x2="248.89999999999998" y2="248.1" stroke="#000" stroke-width="0.8"/>
<line x1="292.08" y1="405.5" x2="292.08" y2="403.0" stroke="#000" stroke-width="0.8"/>
<line x1="292.08" y1="245.6" x2="292.08" y2="248.1" stroke="#000" stroke-width="0.8"/>
<line x1="35.3" y1="261.7" x2="37.8" y2="261.7" stroke="#000" stroke-width="0.8"/>
<line x1="301.2" y1="261.7" x2="298.7" y2="261.7" stroke="#000" stroke-width="0.8"/>
<line x1="35.3" y1="283.9" x2="37.8" y2="283.9" stroke="#000" stroke-width="0.8"/>
<line x1="301.2" y1="283.9" x2="298.7" y2="283.9" stroke="#000" stroke-width="0.8"/>
<line x1="35.3" y1="304.8" x2="37.8" y2="304.8" stroke="#000" stroke-width="0.8"/>
<line x1="301.2" y1="304.8" x2="298.7" y2="304.8" stroke="#000" stroke-width="0.8"/>
<line x1="35.3" y1="326.1" x2="37.8" y2="326.1" stroke="#000" stroke-width="0.8"/>
<line x1="301.2" y1="326.1" x2="298.7" y2="326.1" stroke="#000" stroke-width="0.8"/>
<line x1="35.3" y1="348.2" x2="37.8" y2="348.2" stroke="#000" stroke-width="0.8"/>
<line x1="301.2" y1="348.2" x2="298.7" y2="348.2" stroke="#000" stroke-width="0.8"/>
<line x1="35.3" y1="369.3" x2="37.8" y2="369.3" stroke="#000" stroke-width="0.8"/>
<line x1="301.2" y1="369.3" x2="298.7" y2="369.3" stroke="#000" stroke-width="0.8"/>
<line x1="35.3" y1="390.4" x2="37.8" y2="390.4" stroke="#000" stroke-width="0.8"/>
<line x1="301.2" y1="390.4" x2="298.7" y2="390.4" stroke="#000" stroke-width="0.8"/>
<text x="31.80" y="265.32" font-size="10.1" text-anchor="end" font-weight="normal" font-style="normal" font-family="Liberation Sans, sans-serif" fill="#000" >30</text>
<text x="31.80" y="287.52" font-size="10.1" text-anchor="end" font-weight="normal" font-style="normal" font-family="Liberation Sans, sans-serif" fill="#000" >20</text>
<text x="31.80" y="308.42" font-size="10.1" text-anchor="end" font-weight="normal" font-style="normal" font-family="Liberation Sans, sans-serif" fill="#000" >10</text>
<text x="31.80" y="329.72" font-size="10.1" text-anchor="end" font-weight="normal" font-style="normal" font-family="Liberation Sans, sans-serif" fill="#000" >0</text>
<text x="31.80" y="351.82" font-size="10.1" text-anchor="end" font-weight="normal" font-style="normal" font-family="Liberation Sans, sans-serif" fill="#000" >-10</text>
<text x="31.80" y="372.92" font-size="10.1" text-anchor="end" font-weight="normal" font-style="normal" font-family="Liberation Sans, sans-serif" fill="#000" >-20</text>
<text x="31.80" y="394.02" font-size="10.1" text-anchor="end" font-weight="normal" font-style="normal" font-family="Liberation Sans, sans-serif" fill="#000" >-30</text>
<text x="76.18" y="420.62" font-size="10.1" text-anchor="middle" font-weight="normal" font-style="normal" font-family="Liberation Sans, sans-serif" fill="#000" >20</text>
<text x="119.36" y="420.62" font-size="10.1" text-anchor="middle" font-weight="normal" font-style="normal" font-family="Liberation Sans, sans-serif" fill="#000" >40</text>
<text x="162.54" y="420.62" font-size="10.1" text-anchor="middle" font-weight="normal" font-style="normal" font-family="Liberation Sans, sans-serif" fill="#000" >60</text>
<text x="205.72" y="420.62" font-size="10.1" text-anchor="middle" font-weight="normal" font-style="normal" font-family="Liberation Sans, sans-serif" fill="#000" >80</text>
<text x="248.90" y="420.62" font-size="10.1" text-anchor="middle" font-weight="normal" font-style="normal" font-family="Liberation Sans, sans-serif" fill="#000" >100</text>
<text x="292.08" y="420.62" font-size="10.1" text-anchor="middle" font-weight="normal" font-style="normal" font-family="Liberation Sans, sans-serif" fill="#000" >120</text>
<text x="144.60" y="433.60" font-size="12.5" font-family="Liberation Serif, serif" text-anchor="start" textLength="47.3" lengthAdjust="spacingAndGlyphs"><tspan font-style="italic">x</tspan><tspan font-size="9.00" dy="2.50">1</tspan><tspan dy="-2.50"> (mm)</tspan></text>
<text x="10.80" y="350.80" font-size="12.5" font-family="Liberation Serif, serif" text-anchor="start" transform="rotate(-90 10.8 350.8)" textLength="48.6" lengthAdjust="spacingAndGlyphs"><tspan font-style="italic">x</tspan><tspan font-size="9.00" dy="2.50">2</tspan><tspan dy="-2.50"> (mm)</tspan></text>
<rect x="307.0" y="245.8" width="10.300000000000011" height="159.8" fill="url(#cb3)" stroke="#000" stroke-width="0.8"/>
<line x1="307.0" y1="287.2" x2="309.0" y2="287.2" stroke="#000" stroke-width="0.8"/>
<line x1="317.3" y1="287.2" x2="315.3" y2="287.2" stroke="#000" stroke-width="0.8"/>
<line x1="307.0" y1="327.3" x2="309.0" y2="327.3" stroke="#000" stroke-width="0.8"/>
<line x1="317.3" y1="327.3" x2="315.3" y2="327.3" stroke="#000" stroke-width="0.8"/>
<line x1="307.0" y1="367.4" x2="309.0" y2="367.4" stroke="#000" stroke-width="0.8"/>
<line x1="317.3" y1="367.4" x2="315.3" y2="367.4" stroke="#000" stroke-width="0.8"/>
<text x="321.00" y="251.60" font-size="12.3" text-anchor="start" font-weight="normal" font-style="normal" font-family="Liberation Sans, sans-serif" fill="#000" >1</text>
<text x="321.00" y="291.60" font-size="12.3" text-anchor="start" font-weight="normal" font-style="normal" font-family="Liberation Sans, sans-serif" fill="#000" >0.5</text>
<text x="321.00" y="331.70" font-size="12.3" text-anchor="start" font-weight="normal" font-style="normal" font-family="Liberation Sans, sans-serif" fill="#000" >0</text>
<text x="321.00" y="371.80" font-size="12.3" text-anchor="start" font-weight="normal" font-style="normal" font-family="Liberation Sans, sans-serif" fill="#000" >-0.5</text>
<text x="321.00" y="410.90" font-size="12.3" text-anchor="start" font-weight="normal" font-style="normal" font-family="Liberation Sans, sans-serif" fill="#000" >-1</text>
<text x="319.00" y="240.70" font-size="12.3" font-family="Liberation Sans, sans-serif">×<tspan dx="1.84">10</tspan><tspan font-size="8.86" dy="-6.15">-3</tspan></text>
<text x="355.00" y="226.50" font-size="16.9" text-anchor="start" font-weight="bold" font-style="normal" font-family="Liberation Sans, sans-serif" fill="#000" >(d)</text>
<g clip-path="url(#cl7)"><g filter="url(#bl10)"><rect x="366.2" y="233.5" width="284.3" height="102.39999999999998" fill="#00c8ff"/><ellipse cx="385.2" cy="252.5" rx="50" ry="38" fill="#00f0ff" transform="rotate(0 385.2 252.5)"/><ellipse cx="415.2" cy="282.5" rx="40" ry="40" fill="#00dcff" transform="rotate(0 415.2 282.5)"/><polygon points="456.2,233.5 527.5,233.5 527.5,243 529.5,262.6 545.1,274.3 564.7,286.1 584.2,297.8 597.9,309.6 609.7,321.3 611,324 611,335.9 494.2,335.9 481.2,291.9 466.2,267.5" fill="#0040ff"/><ellipse cx="383.2" cy="315.9" rx="8" ry="9" fill="#0078ff" transform="rotate(0 383.2 315.9)"/></g><g filter="url(#bl6)"><polyline points="505.5,242.5 513.5,272.6 529.1,284.3 548.7,296.1 568.2,307.8 581.9,319.6 593.7,331.3 595,334" fill="none" stroke="#0008e0" stroke-width="26" stroke-linejoin="round" stroke-linecap="round"/></g><g filter="url(#bl7)"><polygon points="527.5,233.5 527.5,243 529.5,262.6 545.1,274.3 564.7,286.1 584.2,297.8 597.9,309.6 609.7,321.3 611,324 611,335.9 650.5,335.9 650.5,233.5" fill="#003232"/><polyline points="553.5,225 555.5,244.60000000000002 571.1,256.3 590.7,268.1 610.2,279.8 623.9,291.6 635.7,303.3 637,306" fill="none" stroke="#005c5c" stroke-width="44" stroke-linejoin="round" stroke-linecap="round"/><polyline points="536.5,237 538.5,256.6 554.1,268.3 573.7,280.1 593.2,291.8 606.9,303.6 618.7,315.3 620,318" fill="none" stroke="#00b4b4" stroke-width="16" stroke-linejoin="round" stroke-linecap="round"/><rect x="622.5" y="233.5" width="28.0" height="102.39999999999998" fill="#0c1c1c"/></g><g filter="url(#bl2_5)"><ellipse cx="566" cy="248" rx="22" ry="14" fill="#000" transform="rotate(0 566 248)"/></g><g filter="url(#bl2)"><ellipse cx="566" cy="248" rx="18" ry="10" fill="#767600" transform="rotate(0 566 248)"/><polyline points="527.5,243 529.5,262.6 545.1,274.3 564.7,286.1 584.2,297.8 597.9,309.6 609.7,321.3 611,324" fill="none" stroke="#00e8e8" stroke-width="5" stroke-linejoin="round" stroke-linecap="round"/></g><g filter="url(#bl0_8)"><polyline points="527.5,243 529.5,262.6 545.1,274.3 564.7,286.1 584.2,297.8 597.9,309.6 609.7,321.3 611,324" fill="none" stroke="#00ffff" stroke-width="1.8" stroke-linejoin="round" stroke-linecap="round"/></g></g>
<g clip-path="url(#cl8)"><g filter="url(#bl10)"><rect x="366.2" y="307.9" width="284.3" height="103.60000000000002" fill="#ff9200"/><ellipse cx="410.2" cy="372.5" rx="95" ry="50" fill="#ffc000" transform="rotate(0 410.2 372.5)"/><ellipse cx="390.2" cy="392.5" rx="45" ry="28" fill="#ffff00" transform="rotate(0 390.2 392.5)"/><polygon points="458,405 500,340 514,310 613,310 613,320 594,339.5 578.4,353.2 554.9,365 535.3,372.8 527.5,380.6 526.5,392 526,400 526,411.5" fill="#ff1000"/></g><g filter="url(#bl5)"><ellipse cx="554" cy="331.9" rx="34" ry="10" fill="#c80000" transform="rotate(-20 554 331.9)"/><ellipse cx="498.5" cy="385.5" rx="22" ry="16" fill="#d80000" transform="rotate(-30 498.5 385.5)"/></g><g filter="url(#bl4)"><polyline points="608,317 589,336.5 573.4,350.2 549.9,362 530.3,369.8 522.5,377.6 521.5,389 521,397" fill="none" stroke="#ff8000" stroke-width="8" stroke-linejoin="round" stroke-linecap="round"/></g><g filter="url(#bl3)"><polyline points="617,322 598,341.5 582.4,355.2 558.9,367 539.3,374.8 531.5,382.6 530.5,394 530,402" fill="none" stroke="#d8d800" stroke-width="9" stroke-linejoin="round" stroke-linecap="round"/></g><g filter="url(#bl7)"><polygon points="613,307.9 613,320 594,339.5 578.4,353.2 554.9,365 535.3,372.8 527.5,380.6 526.5,392 526,400 526,411.5 650.5,411.5 650.5,307.9" fill="#2c2c00"/><polyline points="628,329 609,348.5 593.4,362.2 569.9,374 550.3,381.8 542.5,389.6 541.5,401 541,409" fill="none" stroke="#8c8c00" stroke-width="26" stroke-linejoin="round" stroke-linecap="round"/><rect x="622.5" y="307.9" width="28.0" height="103.60000000000002" fill="#101000"/></g><g filter="url(#bl3)"><ellipse cx="567" cy="399" rx="21" ry="16" fill="#000" transform="rotate(0 567 399)"/></g><g filter="url(#bl2)"><ellipse cx="567" cy="399" rx="16" ry="11" fill="#006464" transform="rotate(0 567 399)"/><ellipse cx="565" cy="399" rx="10" ry="4" fill="#00c8c8" transform="rotate(0 565 399)"/><polyline points="613,320 594,339.5 578.4,353.2 554.9,365 535.3,372.8 527.5,380.6 526.5,392 526,400" fill="none" stroke="#f0f000" stroke-width="3.5" stroke-linejoin="round" stroke-linecap="round"/></g></g>
<rect x="380.2" y="247.5" width="256.3" height="150.0" fill="none" stroke="#000" stroke-width="0.9"/>
<line x1="379.5" y1="397.5" x2="379.5" y2="395.0" stroke="#000" stroke-width="0.8"/>
<line x1="379.5" y1="247.5" x2="379.5" y2="250.0" stroke="#000" stroke-width="0.8"/>
<line x1="408.76" y1="397.5" x2="408.76" y2="395.0" stroke="#000" stroke-width="0.8"/>
<line x1="408.76" y1="247.5" x2="408.76" y2="250.0" stroke="#000" stroke-width="0.8"/>
<line x1="438.02" y1="397.5" x2="438.02" y2="395.0" stroke="#000" stroke-width="0.8"/>
<line x1="438.02" y1="247.5" x2="438.02" y2="250.0" stroke="#000" stroke-width="0.8"/>
<line x1="467.28" y1="397.5" x2="467.28" y2="395.0" stroke="#000" stroke-width="0.8"/>
<line x1="467.28" y1="247.5" x2="467.28" y2="250.0" stroke="#000" stroke-width="0.8"/>
<line x1="496.54" y1="397.5" x2="496.54" y2="395.0" stroke="#000" stroke-width="0.8"/>
<line x1="496.54" y1="247.5" x2="496.54" y2="250.0" stroke="#000" stroke-width="0.8"/>
<line x1="525.8" y1="397.5" x2="525.8" y2="395.0" stroke="#000" stroke-width="0.8"/>
<line x1="525.8" y1="247.5" x2="525.8" y2="250.0" stroke="#000" stroke-width="0.8"/>
<line x1="555.06" y1="397.5" x2="555.06" y2="395.0" stroke="#000" stroke-width="0.8"/>
<line x1="555.06" y1="247.5" x2="555.06" y2="250.0" stroke="#000" stroke-width="0.8"/>
<line x1="584.32" y1="397.5" x2="584.32" y2="395.0" stroke="#000" stroke-width="0.8"/>
<line x1="584.32" y1="247.5" x2="584.32" y2="250.0" stroke="#000" stroke-width="0.8"/>
<line x1="613.58" y1="397.5" x2="613.58" y2="395.0" stroke="#000" stroke-width="0.8"/>
<line x1="613.58" y1="247.5" x2="613.58" y2="250.0" stroke="#000" stroke-width="0.8"/>
<line x1="380.2" y1="270.7" x2="382.7" y2="270.7" stroke="#000" stroke-width="0.8"/>
<line x1="636.5" y1="270.7" x2="634.0" y2="270.7" stroke="#000" stroke-width="0.8"/>
<line x1="380.2" y1="300.3" x2="382.7" y2="300.3" stroke="#000" stroke-width="0.8"/>
<line x1="636.5" y1="300.3" x2="634.0" y2="300.3" stroke="#000" stroke-width="0.8"/>
<line x1="380.2" y1="328.9" x2="382.7" y2="328.9" stroke="#000" stroke-width="0.8"/>
<line x1="636.5" y1="328.9" x2="634.0" y2="328.9" stroke="#000" stroke-width="0.8"/>
<line x1="380.2" y1="358.5" x2="382.7" y2="358.5" stroke="#000" stroke-width="0.8"/>
<line x1="636.5" y1="358.5" x2="634.0" y2="358.5" stroke="#000" stroke-width="0.8"/>
<line x1="380.2" y1="388.1" x2="382.7" y2="388.1" stroke="#000" stroke-width="0.8"/>
<line x1="636.5" y1="388.1" x2="634.0" y2="388.1" stroke="#000" stroke-width="0.8"/>
<text x="376.50" y="273.96" font-size="9.1" text-anchor="end" font-weight="normal" font-style="normal" font-family="Liberation Sans, sans-serif" fill="#000" >4</text>
<text x="376.50" y="303.56" font-size="9.1" text-anchor="end" font-weight="normal" font-style="normal" font-family="Liberation Sans, sans-serif" fill="#000" >2</text>
<text x="376.50" y="332.16" font-size="9.1" text-anchor="end" font-weight="normal" font-style="normal" font-family="Liberation Sans, sans-serif" fill="#000" >0</text>
<text x="376.50" y="361.76" font-size="9.1" text-anchor="end" font-weight="normal" font-style="normal" font-family="Liberation Sans, sans-serif" fill="#000" >-2</text>
<text x="376.50" y="391.36" font-size="9.1" text-anchor="end" font-weight="normal" font-style="normal" font-family="Liberation Sans, sans-serif" fill="#000" >-4</text>
<text x="379.50" y="411.46" font-size="9.1" text-anchor="middle" font-weight="normal" font-style="normal" font-family="Liberation Sans, sans-serif" fill="#000" >0</text>
<text x="408.76" y="411.46" font-size="9.1" text-anchor="middle" font-weight="normal" font-style="normal" font-family="Liberation Sans, sans-serif" fill="#000" >2</text>
<text x="438.02" y="411.46" font-size="9.1" text-anchor="middle" font-weight="normal" font-style="normal" font-family="Liberation Sans, sans-serif" fill="#000" >4</text>
<text x="467.28" y="411.46" font-size="9.1" text-anchor="middle" font-weight="normal" font-style="normal" font-family="Liberation Sans, sans-serif" fill="#000" >6</text>
<text x="496.54" y="411.46" font-size="9.1" text-anchor="middle" font-weight="normal" font-style="normal" font-family="Liberation Sans, sans-serif" fill="#000" >8</text>
<text x="525.80" y="411.46" font-size="9.1" text-anchor="middle" font-weight="normal" font-style="normal" font-family="Liberation Sans, sans-serif" fill="#000" >10</text>
<text x="555.06" y="411.46" font-size="9.1" text-anchor="middle" font-weight="normal" font-style="normal" font-family="Liberation Sans, sans-serif" fill="#000" >12</text>
<text x="584.32" y="411.46" font-size="9.1" text-anchor="middle" font-weight="normal" font-style="normal" font-family="Liberation Sans, sans-serif" fill="#000" >14</text>
<text x="613.58" y="411.46" font-size="9.1" text-anchor="middle" font-weight="normal" font-style="normal" font-family="Liberation Sans, sans-serif" fill="#000" >16</text>
<text x="485.90" y="424.00" font-size="12.5" font-family="Liberation Serif, serif" text-anchor="start" textLength="46" lengthAdjust="spacingAndGlyphs"><tspan font-style="italic">x</tspan><tspan font-size="9.00" dy="2.50">1</tspan><tspan dy="-2.50"> (mm)</tspan></text>
<text x="363.70" y="346.90" font-size="12.5" font-family="Liberation Serif, serif" text-anchor="start" transform="rotate(-90 363.7 346.9)" textLength="46.6" lengthAdjust="spacingAndGlyphs"><tspan font-style="italic">x</tspan><tspan font-size="9.00" dy="2.50">2</tspan><tspan dy="-2.50"> (mm)</tspan></text>
<rect x="641.8" y="247.5" width="10.400000000000091" height="150.39999999999998" fill="url(#cb4)" stroke="#000" stroke-width="0.8"/>
<line x1="641.8" y1="287.5" x2="643.8" y2="287.5" stroke="#000" stroke-width="0.8"/>
<line x1="652.2" y1="287.5" x2="650.2" y2="287.5" stroke="#000" stroke-width="0.8"/>
<line x1="641.8" y1="323.6" x2="643.8" y2="323.6" stroke="#000" stroke-width="0.8"/>
<line x1="652.2" y1="323.6" x2="650.2" y2="323.6" stroke="#000" stroke-width="0.8"/>
<line x1="641.8" y1="359.4" x2="643.8" y2="359.4" stroke="#000" stroke-width="0.8"/>
<line x1="652.2" y1="359.4" x2="650.2" y2="359.4" stroke="#000" stroke-width="0.8"/>
<text x="655.50" y="255.34" font-size="11" text-anchor="start" font-weight="normal" font-style="normal" font-family="Liberation Sans, sans-serif" fill="#000" >2</text>
<text x="655.50" y="291.44" font-size="11" text-anchor="start" font-weight="normal" font-style="normal" font-family="Liberation Sans, sans-serif" fill="#000" >1</text>
<text x="655.50" y="327.54" font-size="11" text-anchor="start" font-weight="normal" font-style="normal" font-family="Liberation Sans, sans-serif" fill="#000" >0</text>
<text x="655.50" y="363.34" font-size="11" text-anchor="start" font-weight="normal" font-style="normal" font-family="Liberation Sans, sans-serif" fill="#000" >-1</text>
<text x="655.50" y="398.84" font-size="11" text-anchor="start" font-weight="normal" font-style="normal" font-family="Liberation Sans, sans-serif" fill="#000" >-2</text>
<text x="653.60" y="241.60" font-size="11.3" font-family="Liberation Sans, sans-serif">×<tspan dx="1.70">10</tspan><tspan font-size="8.14" dy="-5.65">-3</tspan></text>
<text x="2.00" y="444.50" font-size="16.9" text-anchor="start" font-weight="bold" font-style="normal" font-family="Liberation Sans, sans-serif" fill="#000" >(e)</text>
<line x1="77.44" y1="456.2" x2="77.44" y2="661.5" stroke="#000" stroke-width="0.7" stroke-dasharray="1 2.2"/>
<line x1="119.38" y1="456.2" x2="119.38" y2="661.5" stroke="#000" stroke-width="0.7" stroke-dasharray="1 2.2"/>
<line x1="161.32" y1="456.2" x2="161.32" y2="661.5" stroke="#000" stroke-width="0.7" stroke-dasharray="1 2.2"/>
<line x1="203.26" y1="456.2" x2="203.26" y2="661.5" stroke="#000" stroke-width="0.7" stroke-dasharray="1 2.2"/>
<line x1="245.2" y1="456.2" x2="245.2" y2="661.5" stroke="#000" stroke-width="0.7" stroke-dasharray="1 2.2"/>
<line x1="287.14" y1="456.2" x2="287.14" y2="661.5" stroke="#000" stroke-width="0.7" stroke-dasharray="1 2.2"/>
<line x1="35.5" y1="484.6" x2="297.2" y2="484.6" stroke="#000" stroke-width="0.7" stroke-dasharray="1 2.2"/>
<line x1="35.5" y1="511.8" x2="297.2" y2="511.8" stroke="#000" stroke-width="0.7" stroke-dasharray="1 2.2"/>
<line x1="35.5" y1="539.0" x2="297.2" y2="539.0" stroke="#000" stroke-width="0.7" stroke-dasharray="1 2.2"/>
<line x1="35.5" y1="566.0" x2="297.2" y2="566.0" stroke="#000" stroke-width="0.7" stroke-dasharray="1 2.2"/>
<line x1="35.5" y1="593.5" x2="297.2" y2="593.5" stroke="#000" stroke-width="0.7" stroke-dasharray="1 2.2"/>
<line x1="35.5" y1="621.0" x2="297.2" y2="621.0" stroke="#000" stroke-width="0.7" stroke-dasharray="1 2.2"/>
<line x1="35.5" y1="648.3" x2="297.2" y2="648.3" stroke="#000" stroke-width="0.7" stroke-dasharray="1 2.2"/>
<g clip-path="url(#cl9)"><path d="M35.9,531.4 C36.3,533.4 37.5,539.0 38.5,543.6 C39.5,548.3 40.5,555.2 42.0,559.3 C43.4,563.4 45.5,565.7 47.2,568.0 C49.0,570.4 50.7,568.6 52.4,573.3 C54.2,577.9 55.9,585.8 57.7,595.9 C59.4,606.1 61.3,624.7 62.9,634.3 C64.5,643.9 65.8,653.2 67.3,653.5 C68.7,653.8 70.0,645.4 71.6,636.1 C73.2,626.8 75.1,613.1 76.9,597.7 C78.6,582.3 80.5,556.1 82.1,543.6 C83.7,531.1 85.1,525.6 86.5,522.7 C87.8,519.8 88.6,521.2 89.9,526.2 C91.3,531.1 92.9,541.6 94.3,552.3 C95.8,563.1 97.4,579.4 98.7,590.7 C100.0,602.0 101.1,616.6 102.2,620.4 C103.2,624.1 103.5,615.4 104.8,613.4 C106.1,611.3 108.3,606.1 110.0,608.1 C111.7,610.2 113.8,621.2 115.2,625.6 C116.7,629.9 117.9,633.7 118.7,634.3 C119.5,634.9 118.9,633.4 120.0,629.1 C121.1,624.7 123.6,615.1 125.2,608.1 C126.8,601.2 128.3,592.7 129.6,587.2 C130.9,581.7 131.9,575.6 133.1,575.0 C134.2,574.4 135.3,579.7 136.6,583.7 C137.9,587.8 139.6,599.4 140.9,599.4 C142.2,599.4 143.3,588.7 144.4,583.7 C145.6,578.8 146.6,572.0 147.9,569.8 C149.2,567.6 150.8,569.5 152.3,570.6 C153.7,571.8 155.3,573.4 156.6,576.7 C157.9,580.1 158.8,584.9 160.1,590.7 C161.4,596.5 162.7,605.2 164.5,611.6 C166.2,618.0 168.7,623.8 170.6,629.1 C172.5,634.3 174.2,638.4 175.8,643.0 C177.4,647.7 178.9,656.1 180.2,657.0 C181.5,657.9 182.4,654.1 183.7,648.3 C185.0,642.5 186.7,630.5 188.0,622.1 C189.3,613.7 190.4,603.5 191.5,597.7 C192.7,591.9 193.6,589.0 195.0,587.2 C196.5,585.5 198.5,585.5 200.2,587.2 C202.0,589.0 204.3,594.8 205.5,597.7 C206.6,600.6 207.0,603.5 207.2,604.7 C207.5,605.8 206.5,606.7 207.0,604.7 C207.5,602.6 209.0,595.9 210.5,592.4 C211.9,589.0 214.0,582.9 215.7,583.7 C217.5,584.6 219.2,593.6 221.0,597.7 C222.7,601.8 224.2,605.5 226.2,608.1 C228.2,610.8 231.0,614.0 233.2,613.4 C235.3,612.8 237.5,609.6 239.3,604.7 C241.0,599.7 242.3,588.8 243.6,583.7 C244.9,578.6 246.0,575.0 247.1,574.1 C248.3,573.3 249.3,574.9 250.6,578.5 C251.9,582.1 253.4,590.6 255.0,595.9 C256.6,601.3 258.5,609.6 260.2,610.8 C261.9,611.9 263.8,606.3 265.4,602.9 C267.0,599.6 268.3,596.8 269.8,590.7 C271.2,584.6 272.7,575.0 274.2,566.3 C275.6,557.6 277.2,544.5 278.5,538.4 C279.8,532.3 280.7,529.1 282.0,529.7 C283.3,530.2 285.1,537.2 286.4,541.9 C287.7,546.5 288.5,553.5 289.9,557.6 C291.2,561.6 293.0,564.8 294.2,566.3 C295.4,567.7 296.5,566.3 297.0,566.3 " fill="none" stroke="#000" stroke-width="0.75" stroke-linejoin="round" stroke-dasharray="4 1.6 1 1.6"/><path d="M35.9,597.7 C36.6,595.9 38.6,590.7 40.2,587.2 C41.8,583.7 43.7,579.2 45.5,576.7 C47.2,574.3 49.1,572.4 50.7,572.4 C52.3,572.4 53.6,573.7 55.1,576.7 C56.5,579.8 58.0,584.9 59.4,590.7 C60.9,596.5 62.3,605.8 63.8,611.6 C65.2,617.4 66.7,624.4 68.1,625.6 C69.6,626.8 71.0,623.8 72.5,618.6 C74.0,613.4 75.3,602.9 76.9,594.2 C78.5,585.5 80.4,575.0 82.1,566.3 C83.8,557.6 86.0,546.4 87.3,541.9 C88.6,537.4 88.9,538.4 89.9,539.2 C91.0,540.1 92.1,542.6 93.4,547.1 C94.7,551.6 96.2,559.0 97.8,566.3 C99.4,573.6 101.3,583.7 103.0,590.7 C104.8,597.7 106.2,603.8 108.3,608.1 C110.3,612.5 113.2,615.7 115.2,616.9 C117.3,618.0 119.7,615.7 120.5,615.1 C121.3,614.5 118.9,616.3 120.0,613.4 C121.1,610.5 124.7,602.6 127.0,597.7 C129.3,592.7 131.6,587.5 134.0,583.7 C136.3,579.9 138.8,577.0 140.9,575.0 C143.1,573.0 145.3,571.8 147.0,571.5 C148.8,571.2 149.8,570.6 151.4,573.3 C153.0,575.9 154.9,582.6 156.6,587.2 C158.4,591.9 160.3,597.4 161.9,601.2 C163.5,604.9 164.8,609.0 166.2,609.9 C167.7,610.8 168.7,609.0 170.6,606.4 C172.5,603.8 175.2,597.7 177.6,594.2 C179.9,590.7 182.5,588.7 184.5,585.5 C186.6,582.3 188.2,577.3 189.8,575.0 C191.4,572.7 192.7,571.5 194.1,571.5 C195.6,571.5 196.9,572.4 198.5,575.0 C200.1,577.6 202.3,583.9 203.7,587.2 C205.1,590.6 205.6,593.2 207.0,595.1 C208.4,597.0 210.2,597.5 212.2,598.6 C214.3,599.6 216.6,599.7 219.2,601.2 C221.8,602.6 225.3,607.0 227.9,607.3 C230.5,607.6 232.6,605.7 234.9,602.9 C237.2,600.2 239.6,593.5 241.9,590.7 C244.2,587.9 246.2,586.8 248.9,586.3 C251.5,585.9 255.0,587.9 257.6,588.1 C260.2,588.2 262.5,588.5 264.6,587.2 C266.6,585.9 268.1,583.4 269.8,580.2 C271.5,577.0 273.3,571.5 275.0,568.0 C276.8,564.5 278.5,561.3 280.3,559.3 C282.0,557.3 283.7,556.5 285.5,555.8 C287.2,555.1 288.8,555.5 290.7,554.9 C292.6,554.4 296.0,552.8 297.0,552.3 " fill="none" stroke="#000" stroke-width="1.5" stroke-linejoin="round"/><path d="M35.9,551.5 C36.6,551.5 38.6,550.7 40.2,551.5 C41.8,552.2 43.4,552.8 45.5,555.8 C47.5,558.9 50.1,564.2 52.4,569.8 C54.8,575.3 57.2,583.1 59.4,589.0 C61.6,594.8 63.8,601.3 65.5,604.7 C67.3,608.0 68.4,609.3 69.9,609.0 C71.3,608.7 72.5,608.0 74.2,602.9 C76.0,597.8 78.5,584.6 80.4,578.5 C82.2,572.4 83.8,569.2 85.6,566.3 C87.3,563.4 89.2,561.1 90.8,561.1 C92.4,561.1 93.4,562.5 95.2,566.3 C96.9,570.1 99.1,577.6 101.3,583.7 C103.5,589.8 106.1,597.8 108.3,602.9 C110.4,608.0 112.6,612.5 114.4,614.3 C116.1,616.0 117.8,613.8 118.7,613.4 C119.7,612.9 118.6,614.3 120.0,611.6 C121.4,609.0 124.7,602.3 127.0,597.7 C129.3,593.0 131.6,587.8 134.0,583.7 C136.3,579.7 138.9,575.7 140.9,573.3 C143.0,570.8 144.3,568.9 146.2,568.9 C148.1,568.9 150.4,570.2 152.3,573.3 C154.2,576.3 155.6,582.6 157.5,587.2 C159.4,591.9 161.6,598.0 163.6,601.2 C165.6,604.4 167.7,606.1 169.7,606.4 C171.7,606.7 173.3,604.9 175.8,602.9 C178.3,600.9 182.2,596.8 184.5,594.2 C186.9,591.6 188.0,588.7 189.8,587.2 C191.5,585.8 193.3,585.2 195.0,585.5 C196.7,585.8 198.5,587.2 200.2,589.0 C202.0,590.7 204.3,594.5 205.5,595.9 C206.6,597.4 205.9,596.5 207.0,597.7 C208.1,598.8 210.2,601.6 212.2,602.9 C214.3,604.2 216.6,605.4 219.2,605.5 C221.8,605.7 225.0,604.8 227.9,603.8 C230.8,602.8 233.7,601.3 236.7,599.4 C239.6,597.5 242.5,594.5 245.4,592.4 C248.3,590.4 251.2,589.0 254.1,587.2 C257.0,585.5 260.2,584.0 262.8,582.0 C265.4,579.9 267.8,577.2 269.8,575.0 C271.8,572.8 273.3,570.8 275.0,568.9 C276.8,567.0 278.2,564.8 280.3,563.7 C282.3,562.5 285.2,562.1 287.2,561.9 C289.3,561.8 290.8,562.4 292.5,562.8 C294.1,563.2 296.2,564.2 297.0,564.5 " fill="none" stroke="#0000ff" stroke-width="1.5" stroke-linejoin="round"/><path d="M35.9,559.3 C36.6,559.6 38.9,560.5 40.2,561.1 C41.5,561.6 42.3,561.8 43.7,562.8 C45.2,563.8 46.9,566.3 49.0,567.2 C51.0,568.0 53.6,567.7 55.9,568.0 C58.3,568.3 60.6,568.3 62.9,568.9 C65.2,569.5 67.6,571.4 69.9,571.5 C72.2,571.7 74.0,570.1 76.9,569.8 C79.8,569.4 83.8,569.4 87.3,569.4 C90.8,569.4 94.3,569.6 97.8,569.8 C101.3,570.0 105.1,570.1 108.3,570.6 C111.5,571.2 115.0,572.5 117.0,573.3 C118.9,574.0 118.6,574.1 120.0,575.0 C121.4,575.9 123.3,577.3 125.2,578.5 C127.1,579.7 129.3,582.3 131.3,582.0 C133.4,581.7 135.3,578.3 137.4,576.7 C139.6,575.1 142.4,572.7 144.4,572.4 C146.5,572.1 147.9,573.0 149.7,575.0 C151.4,577.0 153.1,582.7 154.9,584.6 C156.6,586.5 158.4,586.1 160.1,586.3 C161.9,586.6 163.3,585.8 165.4,586.3 C167.4,586.9 170.0,588.5 172.3,589.8 C174.7,591.1 177.0,594.2 179.3,594.2 C181.6,594.2 184.0,590.6 186.3,589.8 C188.6,589.1 190.9,589.2 193.3,589.8 C195.6,590.4 197.9,592.0 200.2,593.3 C202.5,594.6 204.4,597.7 207.0,597.7 C209.6,597.7 212.8,594.8 215.7,593.3 C218.6,591.9 221.2,590.4 224.4,589.0 C227.6,587.5 232.4,586.3 234.9,584.6 C237.4,582.9 237.8,580.7 239.3,578.5 C240.7,576.3 242.0,573.1 243.6,571.5 C245.2,569.9 246.8,569.5 248.9,568.9 C250.9,568.3 253.5,568.5 255.8,568.0 C258.2,567.6 260.2,566.7 262.8,566.3 C265.4,565.8 268.6,565.6 271.5,565.4 C274.4,565.2 277.4,565.0 280.3,564.9 C283.2,564.7 286.2,564.5 289.0,564.5 C291.8,564.5 295.7,564.8 297.0,564.9 " fill="none" stroke="#ff0000" stroke-width="1.5" stroke-linejoin="round"/></g>
<text x="219" y="472.5" font-size="14" font-family="Liberation Serif, serif" textLength="76.6" lengthAdjust="spacingAndGlyphs"><tspan font-style="italic">x</tspan><tspan font-size="9.5" dy="2.5">2</tspan><tspan dy="-2.5"> = 0</tspan><tspan font-size="9.5" dy="-5">+</tspan><tspan dy="5"> (mm)</tspan></text>
<rect x="38.5" y="459.5" width="103.0" height="40.30000000000001" fill="#fff"/>
<line x1="41.5" y1="466.0" x2="58.8" y2="466.0" stroke="#000" stroke-width="0.8" stroke-dasharray="4 1.5 1 1.5"/>
<text x="61.20" y="469.06" font-size="8.5" text-anchor="start" font-weight="normal" font-style="normal" font-family="Liberation Sans, sans-serif" fill="#000" >Subset = 21</text>
<line x1="41.5" y1="475.8" x2="58.8" y2="475.8" stroke="#000" stroke-width="1.4"/>
<text x="61.20" y="478.86" font-size="8.5" text-anchor="start" font-weight="normal" font-style="normal" font-family="Liberation Sans, sans-serif" fill="#000" >Subset = 31</text>
<line x1="41.5" y1="485.6" x2="58.8" y2="485.6" stroke="#0000ff" stroke-width="1.4"/>
<text x="61.20" y="488.66" font-size="8.5" text-anchor="start" font-weight="normal" font-style="normal" font-family="Liberation Sans, sans-serif" fill="#000" >Subset = 41</text>
<line x1="41.5" y1="495.1" x2="58.8" y2="495.1" stroke="#ff0000" stroke-width="1.4"/>
<text x="61.20" y="498.16" font-size="8.5" text-anchor="start" font-weight="normal" font-style="normal" font-family="Liberation Sans, sans-serif" fill="#000" >Subset = 41 – filtered</text>
<rect x="38.5" y="459.5" width="103.0" height="40.30000000000001" fill="none" stroke="#000" stroke-width="0.8"/>
<rect x="35.5" y="456.2" width="261.7" height="205.3" fill="none" stroke="#000" stroke-width="0.9"/>
<line x1="35.5" y1="661.5" x2="35.5" y2="659.0" stroke="#000" stroke-width="0.8"/>
<line x1="35.5" y1="456.2" x2="35.5" y2="458.7" stroke="#000" stroke-width="0.8"/>
<line x1="77.44" y1="661.5" x2="77.44" y2="659.0" stroke="#000" stroke-width="0.8"/>
<line x1="77.44" y1="456.2" x2="77.44" y2="458.7" stroke="#000" stroke-width="0.8"/>
<line x1="119.38" y1="661.5" x2="119.38" y2="659.0" stroke="#000" stroke-width="0.8"/>
<line x1="119.38" y1="456.2" x2="119.38" y2="458.7" stroke="#000" stroke-width="0.8"/>
<line x1="161.32" y1="661.5" x2="161.32" y2="659.0" stroke="#000" stroke-width="0.8"/>
<line x1="161.32" y1="456.2" x2="161.32" y2="458.7" stroke="#000" stroke-width="0.8"/>
<line x1="203.26" y1="661.5" x2="203.26" y2="659.0" stroke="#000" stroke-width="0.8"/>
<line x1="203.26" y1="456.2" x2="203.26" y2="458.7" stroke="#000" stroke-width="0.8"/>
<line x1="245.2" y1="661.5" x2="245.2" y2="659.0" stroke="#000" stroke-width="0.8"/>
<line x1="245.2" y1="456.2" x2="245.2" y2="458.7" stroke="#000" stroke-width="0.8"/>
<line x1="287.14" y1="661.5" x2="287.14" y2="659.0" stroke="#000" stroke-width="0.8"/>
<line x1="287.14" y1="456.2" x2="287.14" y2="458.7" stroke="#000" stroke-width="0.8"/>
<line x1="35.5" y1="457.0" x2="38.0" y2="457.0" stroke="#000" stroke-width="0.8"/>
<line x1="297.2" y1="457.0" x2="294.7" y2="457.0" stroke="#000" stroke-width="0.8"/>
<line x1="35.5" y1="484.6" x2="38.0" y2="484.6" stroke="#000" stroke-width="0.8"/>
<line x1="297.2" y1="484.6" x2="294.7" y2="484.6" stroke="#000" stroke-width="0.8"/>
<line x1="35.5" y1="511.8" x2="38.0" y2="511.8" stroke="#000" stroke-width="0.8"/>
<line x1="297.2" y1="511.8" x2="294.7" y2="511.8" stroke="#000" stroke-width="0.8"/>
<line x1="35.5" y1="539.0" x2="38.0" y2="539.0" stroke="#000" stroke-width="0.8"/>
<line x1="297.2" y1="539.0" x2="294.7" y2="539.0" stroke="#000" stroke-width="0.8"/>
<line x1="35.5" y1="566.0" x2="38.0" y2="566.0" stroke="#000" stroke-width="0.8"/>
<line x1="297.2" y1="566.0" x2="294.7" y2="566.0" stroke="#000" stroke-width="0.8"/>
<line x1="35.5" y1="593.5" x2="38.0" y2="593.5" stroke="#000" stroke-width="0.8"/>
<line x1="297.2" y1="593.5" x2="294.7" y2="593.5" stroke="#000" stroke-width="0.8"/>
<line x1="35.5" y1="621.0" x2="38.0" y2="621.0" stroke="#000" stroke-width="0.8"/>
<line x1="297.2" y1="621.0" x2="294.7" y2="621.0" stroke="#000" stroke-width="0.8"/>
<line x1="35.5" y1="648.3" x2="38.0" y2="648.3" stroke="#000" stroke-width="0.8"/>
<line x1="297.2" y1="648.3" x2="294.7" y2="648.3" stroke="#000" stroke-width="0.8"/>
<text x="33.80" y="461.12" font-size="11.5" text-anchor="end" font-weight="normal" font-style="normal" font-family="Liberation Sans, sans-serif" fill="#000" >4</text>
<text x="33.80" y="488.72" font-size="11.5" text-anchor="end" font-weight="normal" font-style="normal" font-family="Liberation Sans, sans-serif" fill="#000" >3</text>
<text x="33.80" y="515.92" font-size="11.5" text-anchor="end" font-weight="normal" font-style="normal" font-family="Liberation Sans, sans-serif" fill="#000" >2</text>
<text x="33.80" y="543.12" font-size="11.5" text-anchor="end" font-weight="normal" font-style="normal" font-family="Liberation Sans, sans-serif" fill="#000" >1</text>
<text x="33.80" y="570.12" font-size="11.5" text-anchor="end" font-weight="normal" font-style="normal" font-family="Liberation Sans, sans-serif" fill="#000" >0</text>
<text x="33.80" y="597.62" font-size="11.5" text-anchor="end" font-weight="normal" font-style="normal" font-family="Liberation Sans, sans-serif" fill="#000" >−1</text>
<text x="33.80" y="625.12" font-size="11.5" text-anchor="end" font-weight="normal" font-style="normal" font-family="Liberation Sans, sans-serif" fill="#000" >−2</text>
<text x="33.80" y="652.42" font-size="11.5" text-anchor="end" font-weight="normal" font-style="normal" font-family="Liberation Sans, sans-serif" fill="#000" >−3</text>
<text x="35.50" y="674.72" font-size="11.5" text-anchor="middle" font-weight="normal" font-style="normal" font-family="Liberation Sans, sans-serif" fill="#000" >0</text>
<text x="77.44" y="674.72" font-size="11.5" text-anchor="middle" font-weight="normal" font-style="normal" font-family="Liberation Sans, sans-serif" fill="#000" >20</text>
<text x="119.38" y="674.72" font-size="11.5" text-anchor="middle" font-weight="normal" font-style="normal" font-family="Liberation Sans, sans-serif" fill="#000" >40</text>
<text x="161.32" y="674.72" font-size="11.5" text-anchor="middle" font-weight="normal" font-style="normal" font-family="Liberation Sans, sans-serif" fill="#000" >60</text>
<text x="203.26" y="674.72" font-size="11.5" text-anchor="middle" font-weight="normal" font-style="normal" font-family="Liberation Sans, sans-serif" fill="#000" >80</text>
<text x="245.20" y="674.72" font-size="11.5" text-anchor="middle" font-weight="normal" font-style="normal" font-family="Liberation Sans, sans-serif" fill="#000" >100</text>
<text x="287.14" y="674.72" font-size="11.5" text-anchor="middle" font-weight="normal" font-style="normal" font-family="Liberation Sans, sans-serif" fill="#000" >120</text>
<text x="36.00" y="455.00" font-size="11.6" font-family="Liberation Sans, sans-serif">x 10<tspan font-size="8.35" dy="-5.80">−3</tspan></text>
<text x="140.10" y="687.70" font-size="14.5" font-family="Liberation Serif, serif" text-anchor="start" textLength="54.4" lengthAdjust="spacingAndGlyphs"><tspan font-style="italic">x</tspan><tspan font-size="10.44" dy="2.90">1</tspan><tspan dy="-2.90"> (mm)</tspan></text>
<text x="17.50" y="559.00" font-size="14.5" font-family="Liberation Serif, serif" text-anchor="middle" transform="rotate(-90 17.5 559)" textLength="17.8" lengthAdjust="spacingAndGlyphs"><tspan font-style="italic">ϵ</tspan><tspan font-size="10.44" dy="2.90">22</tspan></text>
<text x="353.00" y="443.50" font-size="16.9" text-anchor="start" font-weight="bold" font-style="normal" font-family="Liberation Sans, sans-serif" fill="#000" >(f)</text>
<line x1="409.0" y1="456.2" x2="409.0" y2="661.5" stroke="#000" stroke-width="0.7" stroke-dasharray="1 2.2"/>
<line x1="438.7" y1="456.2" x2="438.7" y2="661.5" stroke="#000" stroke-width="0.7" stroke-dasharray="1 2.2"/>
<line x1="468.4" y1="456.2" x2="468.4" y2="661.5" stroke="#000" stroke-width="0.7" stroke-dasharray="1 2.2"/>
<line x1="498.1" y1="456.2" x2="498.1" y2="661.5" stroke="#000" stroke-width="0.7" stroke-dasharray="1 2.2"/>
<line x1="527.8" y1="456.2" x2="527.8" y2="661.5" stroke="#000" stroke-width="0.7" stroke-dasharray="1 2.2"/>
<line x1="557.5" y1="456.2" x2="557.5" y2="661.5" stroke="#000" stroke-width="0.7" stroke-dasharray="1 2.2"/>
<line x1="587.2" y1="456.2" x2="587.2" y2="661.5" stroke="#000" stroke-width="0.7" stroke-dasharray="1 2.2"/>
<line x1="616.9" y1="456.2" x2="616.9" y2="661.5" stroke="#000" stroke-width="0.7" stroke-dasharray="1 2.2"/>
<line x1="379.3" y1="497.26" x2="641.2" y2="497.26" stroke="#000" stroke-width="0.7" stroke-dasharray="1 2.2"/>
<line x1="379.3" y1="538.3199999999999" x2="641.2" y2="538.3199999999999" stroke="#000" stroke-width="0.7" stroke-dasharray="1 2.2"/>
<line x1="379.3" y1="579.38" x2="641.2" y2="579.38" stroke="#000" stroke-width="0.7" stroke-dasharray="1 2.2"/>
<line x1="379.3" y1="620.44" x2="641.2" y2="620.44" stroke="#000" stroke-width="0.7" stroke-dasharray="1 2.2"/>
<line x1="379.3" y1="661.5" x2="641.2" y2="661.5" stroke="#000" stroke-width="0.7" stroke-dasharray="1 2.2"/>
<g clip-path="url(#cl10)"><path d="M379.7,555.8 C380.6,555.8 383.2,554.9 385.0,555.5 C386.7,556.0 388.6,555.2 390.2,559.3 C391.8,563.4 393.4,574.3 394.6,580.2 C395.7,586.2 396.2,595.1 397.2,595.1 C398.2,595.1 399.4,587.9 400.7,580.2 C402.0,572.5 403.7,557.0 405.0,548.8 C406.3,540.7 407.4,531.1 408.5,531.4 C409.7,531.7 410.9,542.4 412.0,550.6 C413.2,558.7 414.3,572.5 415.5,580.2 C416.7,587.9 417.8,595.1 419.0,596.8 C420.2,598.6 421.3,594.0 422.5,590.7 C423.6,587.4 424.7,576.7 426.0,576.7 C427.3,576.7 428.9,584.9 430.3,590.7 C431.8,596.5 433.4,606.4 434.7,611.6 C436.0,616.9 437.0,621.5 438.2,622.1 C439.3,622.7 440.4,619.2 441.7,615.1 C443.0,611.1 444.1,601.8 446.0,597.7 C447.9,593.6 451.3,594.8 453.0,590.7 C454.7,586.6 455.3,580.8 456.5,573.3 C457.7,565.7 458.8,552.9 460.0,545.4 C461.1,537.8 462.8,531.1 463.5,527.9 C464.1,524.7 463.3,527.0 464.0,526.2 C464.7,525.3 466.3,520.6 467.5,522.7 C468.7,524.7 469.8,530.5 471.0,538.4 C472.1,546.2 473.3,559.3 474.5,569.8 C475.6,580.2 476.8,593.8 478.0,601.2 C479.1,608.6 480.3,613.1 481.4,614.3 C482.6,615.4 483.5,613.2 484.9,608.1 C486.4,603.1 488.6,591.6 490.2,583.7 C491.8,575.9 493.1,567.2 494.5,561.1 C496.0,554.9 497.3,548.0 498.9,547.1 C500.5,546.2 502.4,552.9 504.1,555.8 C505.9,558.7 507.9,560.2 509.4,564.5 C510.8,568.9 511.5,575.3 512.8,582.0 C514.1,588.7 515.7,599.1 517.2,604.7 C518.7,610.2 520.1,615.1 521.6,615.1 C523.0,615.1 524.5,610.2 525.9,604.7 C527.4,599.1 528.7,589.0 530.3,582.0 C531.9,575.0 533.8,567.2 535.5,562.8 C537.3,558.4 539.0,556.4 540.7,555.8 C542.5,555.2 544.2,556.4 546.0,559.3 C547.7,562.2 550.4,569.8 551.2,573.3 C552.1,576.7 550.2,578.5 551.0,580.2 C551.8,582.0 554.8,585.5 556.2,583.7 C557.7,582.0 558.6,575.0 559.7,569.8 C560.9,564.5 562.0,554.9 563.2,552.3 C564.4,549.7 565.5,548.8 566.7,554.1 C567.9,559.3 569.0,573.0 570.2,583.7 C571.4,594.5 572.5,609.3 573.7,618.6 C574.8,627.9 576.0,636.3 577.2,639.5 C578.3,642.7 579.5,641.0 580.7,637.8 C581.8,634.6 582.8,621.2 584.1,620.4 C585.4,619.5 587.0,626.8 588.5,632.6 C590.0,638.4 591.6,654.1 592.9,655.2 C594.2,656.4 595.0,648.6 596.4,639.5 C597.7,630.5 599.3,613.4 600.7,601.2 C602.2,589.0 603.5,577.0 605.1,566.3 C606.7,555.5 608.6,540.7 610.3,536.6 C612.1,532.6 613.8,541.0 615.5,541.9 C617.3,542.7 619.0,540.7 620.8,541.9 C622.5,543.0 624.4,546.8 626.0,548.8 C627.6,550.9 628.9,554.9 630.4,554.1 C631.8,553.2 633.4,548.0 634.7,543.6 C636.0,539.2 637.2,531.1 638.2,527.9 C639.3,524.7 640.5,525.0 641.0,524.4 " fill="none" stroke="#000" stroke-width="0.75" stroke-linejoin="round" stroke-dasharray="4 1.6 1 1.6"/><path d="M379.7,571.5 C380.5,572.0 382.4,574.0 384.1,574.1 C385.8,574.3 388.0,573.1 390.2,572.4 C392.4,571.7 394.9,570.2 397.2,569.8 C399.5,569.3 401.5,569.6 404.2,569.8 C406.8,569.9 410.3,570.4 412.9,570.6 C415.5,570.9 417.5,570.5 419.9,571.5 C422.2,572.5 424.8,575.3 426.8,576.7 C428.9,578.2 430.3,580.2 432.1,580.2 C433.8,580.2 435.6,579.1 437.3,576.7 C439.1,574.4 440.5,569.8 442.5,566.3 C444.6,562.8 447.3,558.3 449.5,555.8 C451.7,553.3 453.6,551.5 455.6,551.5 C457.7,551.5 460.3,554.5 461.7,555.8 C463.1,557.1 462.7,557.0 464.0,559.3 C465.3,561.6 467.5,566.9 469.2,569.8 C471.0,572.7 472.6,575.1 474.5,576.7 C476.4,578.3 478.5,579.5 480.6,579.4 C482.6,579.2 484.8,577.5 486.7,575.9 C488.6,574.3 490.0,571.4 491.9,569.8 C493.8,568.2 496.0,566.0 498.0,566.3 C500.0,566.6 502.1,568.9 504.1,571.5 C506.2,574.1 508.3,578.6 510.2,582.0 C512.1,585.3 513.9,590.7 515.5,591.6 C517.1,592.4 518.2,590.0 519.8,587.2 C521.4,584.5 523.2,578.3 525.1,575.0 C526.9,571.7 529.1,567.7 531.2,567.2 C533.2,566.6 535.1,569.6 537.3,571.5 C539.4,573.4 541.9,576.5 544.2,578.5 C546.5,580.5 549.0,582.6 551.0,583.7 C553.0,584.9 554.2,585.3 556.2,585.5 C558.3,585.6 561.2,584.0 563.2,584.6 C565.2,585.2 566.7,586.5 568.4,589.0 C570.2,591.4 571.9,595.6 573.7,599.4 C575.4,603.2 577.2,607.3 578.9,611.6 C580.7,616.0 582.4,621.1 584.1,625.6 C585.9,630.1 587.8,637.5 589.4,638.7 C591.0,639.8 592.3,637.1 593.7,632.6 C595.2,628.1 596.6,619.8 598.1,611.6 C599.5,603.5 601.0,591.9 602.5,583.7 C603.9,575.6 605.2,568.9 606.8,562.8 C608.4,556.7 610.3,551.5 612.1,547.1 C613.8,542.7 615.5,539.2 617.3,536.6 C619.0,534.0 620.5,532.4 622.5,531.4 C624.6,530.4 627.2,530.2 629.5,530.5 C631.8,530.8 634.6,532.3 636.5,533.1 C638.4,534.0 640.2,535.3 641.0,535.8 " fill="none" stroke="#000" stroke-width="1.5" stroke-linejoin="round"/><path d="M379.7,561.9 C380.6,561.1 382.9,558.1 385.0,556.7 C387.0,555.3 389.6,554.2 392.0,553.7 C394.3,553.2 396.6,553.1 398.9,553.7 C401.3,554.4 403.6,555.8 405.9,557.6 C408.2,559.4 410.6,562.2 412.9,564.5 C415.2,566.9 417.5,569.6 419.9,571.5 C422.2,573.4 424.2,574.8 426.8,575.9 C429.5,577.0 432.7,577.8 435.6,578.1 C438.5,578.5 441.7,578.8 444.3,578.1 C446.9,577.5 448.9,575.7 451.3,574.1 C453.6,572.6 456.1,569.9 458.2,568.9 C460.4,567.9 461.9,568.2 464.0,568.0 C466.1,567.9 468.7,568.4 471.0,568.0 C473.3,567.7 475.3,566.5 478.0,565.9 C480.6,565.4 483.8,564.8 486.7,564.9 C489.6,564.9 492.8,565.2 495.4,566.3 C498.0,567.4 500.0,569.2 502.4,571.5 C504.7,573.8 507.2,577.8 509.4,580.2 C511.5,582.7 513.4,585.5 515.5,586.3 C517.5,587.2 519.4,586.2 521.6,585.5 C523.7,584.7 526.5,582.8 528.5,582.0 C530.6,581.2 531.7,580.3 533.8,580.6 C535.8,580.9 538.4,582.3 540.7,583.7 C543.1,585.1 546.0,587.8 547.7,589.0 C549.4,590.1 549.0,589.5 551.0,590.7 C553.0,591.9 556.8,593.9 559.7,595.9 C562.6,598.0 565.8,600.4 568.4,602.9 C571.1,605.4 573.4,608.9 575.4,610.8 C577.5,612.7 578.9,614.1 580.7,614.3 C582.4,614.4 584.1,613.8 585.9,611.6 C587.6,609.5 589.4,604.9 591.1,601.2 C592.9,597.4 594.6,593.0 596.4,589.0 C598.1,584.9 599.8,580.8 601.6,576.7 C603.3,572.7 604.8,568.6 606.8,564.5 C608.9,560.5 611.5,555.8 613.8,552.3 C616.1,548.8 618.2,546.2 620.8,543.6 C623.4,541.0 626.1,538.5 629.5,536.6 C632.9,534.7 639.1,533.0 641.0,532.3 " fill="none" stroke="#0000ff" stroke-width="1.5" stroke-linejoin="round"/><path d="M379.7,561.9 C380.6,562.3 383.2,563.6 385.0,564.2 C386.7,564.8 388.8,564.5 390.2,565.4 C391.7,566.3 392.0,569.2 393.7,569.8 C395.4,570.4 398.1,569.2 400.7,568.9 C403.3,568.6 406.5,567.9 409.4,567.7 C412.3,567.5 415.2,567.5 418.1,567.7 C421.0,567.9 423.9,568.5 426.8,568.9 C429.7,569.3 432.7,569.8 435.6,570.1 C438.5,570.4 441.4,570.7 444.3,570.6 C447.2,570.6 450.4,570.1 453.0,569.8 C455.6,569.5 458.1,569.1 460.0,568.9 C461.8,568.7 462.2,568.6 464.0,568.6 C465.8,568.5 468.4,568.2 471.0,568.6 C473.6,568.9 476.5,569.7 479.7,570.6 C482.9,571.6 487.0,573.0 490.2,574.1 C493.4,575.3 495.7,576.3 498.9,577.6 C502.1,578.9 505.9,580.5 509.4,582.0 C512.8,583.4 516.3,584.9 519.8,586.3 C523.3,587.8 527.1,589.1 530.3,590.7 C533.5,592.3 536.1,594.3 539.0,595.9 C541.9,597.5 545.7,599.4 547.7,600.3 C549.7,601.2 549.0,600.3 551.0,601.2 C553.0,602.0 556.8,604.2 559.7,605.5 C562.6,606.8 565.8,607.9 568.4,609.0 C571.1,610.2 573.4,611.6 575.4,612.5 C577.5,613.4 578.9,614.7 580.7,614.3 C582.4,613.8 584.1,612.2 585.9,609.9 C587.6,607.6 589.4,604.1 591.1,600.3 C592.9,596.5 594.6,591.4 596.4,587.2 C598.1,583.0 599.8,578.6 601.6,575.0 C603.3,571.4 604.8,568.9 606.8,565.4 C608.9,561.9 611.5,557.1 613.8,554.1 C616.1,551.0 618.2,549.0 620.8,547.1 C623.4,545.2 626.1,543.9 629.5,542.7 C632.9,541.6 639.1,540.6 641.0,540.1 " fill="none" stroke="#ff0000" stroke-width="1.5" stroke-linejoin="round"/></g>
<text x="562.7" y="472.5" font-size="14" font-family="Liberation Serif, serif" textLength="76.1" lengthAdjust="spacingAndGlyphs"><tspan font-style="italic">x</tspan><tspan font-size="9.5" dy="2.5">2</tspan><tspan dy="-2.5"> = 0</tspan><tspan font-size="9.5" dy="-5">+</tspan><tspan dy="5"> (mm)</tspan></text>
<rect x="382.0" y="459.7" width="103.5" height="39.80000000000001" fill="#fff"/>
<line x1="385.4" y1="465.9" x2="402.7" y2="465.9" stroke="#000" stroke-width="0.8" stroke-dasharray="4 1.5 1 1.5"/>
<text x="405.20" y="468.96" font-size="8.5" text-anchor="start" font-weight="normal" font-style="normal" font-family="Liberation Sans, sans-serif" fill="#000" >Subset = 21</text>
<line x1="385.4" y1="475.7" x2="402.7" y2="475.7" stroke="#000" stroke-width="1.4"/>
<text x="405.20" y="478.76" font-size="8.5" text-anchor="start" font-weight="normal" font-style="normal" font-family="Liberation Sans, sans-serif" fill="#000" >Subset = 31</text>
<line x1="385.4" y1="485.5" x2="402.7" y2="485.5" stroke="#0000ff" stroke-width="1.4"/>
<text x="405.20" y="488.56" font-size="8.5" text-anchor="start" font-weight="normal" font-style="normal" font-family="Liberation Sans, sans-serif" fill="#000" >Subset = 41</text>
<line x1="385.4" y1="494.9" x2="402.7" y2="494.9" stroke="#ff0000" stroke-width="1.4"/>
<text x="405.20" y="497.96" font-size="8.5" text-anchor="start" font-weight="normal" font-style="normal" font-family="Liberation Sans, sans-serif" fill="#000" >Subset = 41 – filtered</text>
<rect x="382.0" y="459.7" width="103.5" height="39.80000000000001" fill="none" stroke="#000" stroke-width="0.8"/>
<rect x="379.3" y="456.2" width="261.90000000000003" height="205.3" fill="none" stroke="#000" stroke-width="0.9"/>
<line x1="379.3" y1="661.5" x2="379.3" y2="659.0" stroke="#000" stroke-width="0.8"/>
<line x1="379.3" y1="456.2" x2="379.3" y2="458.7" stroke="#000" stroke-width="0.8"/>
<line x1="409.0" y1="661.5" x2="409.0" y2="659.0" stroke="#000" stroke-width="0.8"/>
<line x1="409.0" y1="456.2" x2="409.0" y2="458.7" stroke="#000" stroke-width="0.8"/>
<line x1="438.7" y1="661.5" x2="438.7" y2="659.0" stroke="#000" stroke-width="0.8"/>
<line x1="438.7" y1="456.2" x2="438.7" y2="458.7" stroke="#000" stroke-width="0.8"/>
<line x1="468.4" y1="661.5" x2="468.4" y2="659.0" stroke="#000" stroke-width="0.8"/>
<line x1="468.4" y1="456.2" x2="468.4" y2="458.7" stroke="#000" stroke-width="0.8"/>
<line x1="498.1" y1="661.5" x2="498.1" y2="659.0" stroke="#000" stroke-width="0.8"/>
<line x1="498.1" y1="456.2" x2="498.1" y2="458.7" stroke="#000" stroke-width="0.8"/>
<line x1="527.8" y1="661.5" x2="527.8" y2="659.0" stroke="#000" stroke-width="0.8"/>
<line x1="527.8" y1="456.2" x2="527.8" y2="458.7" stroke="#000" stroke-width="0.8"/>
<line x1="557.5" y1="661.5" x2="557.5" y2="659.0" stroke="#000" stroke-width="0.8"/>
<line x1="557.5" y1="456.2" x2="557.5" y2="458.7" stroke="#000" stroke-width="0.8"/>
<line x1="587.2" y1="661.5" x2="587.2" y2="659.0" stroke="#000" stroke-width="0.8"/>
<line x1="587.2" y1="456.2" x2="587.2" y2="458.7" stroke="#000" stroke-width="0.8"/>
<line x1="616.9" y1="661.5" x2="616.9" y2="659.0" stroke="#000" stroke-width="0.8"/>
<line x1="616.9" y1="456.2" x2="616.9" y2="458.7" stroke="#000" stroke-width="0.8"/>
<line x1="379.3" y1="456.2" x2="381.8" y2="456.2" stroke="#000" stroke-width="0.8"/>
<line x1="641.2" y1="456.2" x2="638.7" y2="456.2" stroke="#000" stroke-width="0.8"/>
<line x1="379.3" y1="497.26" x2="381.8" y2="497.26" stroke="#000" stroke-width="0.8"/>
<line x1="641.2" y1="497.26" x2="638.7" y2="497.26" stroke="#000" stroke-width="0.8"/>
<line x1="379.3" y1="538.3199999999999" x2="381.8" y2="538.3199999999999" stroke="#000" stroke-width="0.8"/>
<line x1="641.2" y1="538.3199999999999" x2="638.7" y2="538.3199999999999" stroke="#000" stroke-width="0.8"/>
<line x1="379.3" y1="579.38" x2="381.8" y2="579.38" stroke="#000" stroke-width="0.8"/>
<line x1="641.2" y1="579.38" x2="638.7" y2="579.38" stroke="#000" stroke-width="0.8"/>
<line x1="379.3" y1="620.44" x2="381.8" y2="620.44" stroke="#000" stroke-width="0.8"/>
<line x1="641.2" y1="620.44" x2="638.7" y2="620.44" stroke="#000" stroke-width="0.8"/>
<line x1="379.3" y1="661.5" x2="381.8" y2="661.5" stroke="#000" stroke-width="0.8"/>
<line x1="641.2" y1="661.5" x2="638.7" y2="661.5" stroke="#000" stroke-width="0.8"/>
<text x="377.60" y="460.32" font-size="11.5" text-anchor="end" font-weight="normal" font-style="normal" font-family="Liberation Sans, sans-serif" fill="#000" >2</text>
<text x="377.60" y="501.38" font-size="11.5" text-anchor="end" font-weight="normal" font-style="normal" font-family="Liberation Sans, sans-serif" fill="#000" >1</text>
<text x="377.60" y="542.44" font-size="11.5" text-anchor="end" font-weight="normal" font-style="normal" font-family="Liberation Sans, sans-serif" fill="#000" >0</text>
<text x="377.60" y="583.50" font-size="11.5" text-anchor="end" font-weight="normal" font-style="normal" font-family="Liberation Sans, sans-serif" fill="#000" >−1</text>
<text x="377.60" y="624.56" font-size="11.5" text-anchor="end" font-weight="normal" font-style="normal" font-family="Liberation Sans, sans-serif" fill="#000" >−2</text>
<text x="377.60" y="665.62" font-size="11.5" text-anchor="end" font-weight="normal" font-style="normal" font-family="Liberation Sans, sans-serif" fill="#000" >−3</text>
<text x="379.30" y="674.72" font-size="11.5" text-anchor="middle" font-weight="normal" font-style="normal" font-family="Liberation Sans, sans-serif" fill="#000" >0</text>
<text x="409.00" y="674.72" font-size="11.5" text-anchor="middle" font-weight="normal" font-style="normal" font-family="Liberation Sans, sans-serif" fill="#000" >2</text>
<text x="438.70" y="674.72" font-size="11.5" text-anchor="middle" font-weight="normal" font-style="normal" font-family="Liberation Sans, sans-serif" fill="#000" >4</text>
<text x="468.40" y="674.72" font-size="11.5" text-anchor="middle" font-weight="normal" font-style="normal" font-family="Liberation Sans, sans-serif" fill="#000" >6</text>
<text x="498.10" y="674.72" font-size="11.5" text-anchor="middle" font-weight="normal" font-style="normal" font-family="Liberation Sans, sans-serif" fill="#000" >8</text>
<text x="527.80" y="674.72" font-size="11.5" text-anchor="middle" font-weight="normal" font-style="normal" font-family="Liberation Sans, sans-serif" fill="#000" >10</text>
<text x="557.50" y="674.72" font-size="11.5" text-anchor="middle" font-weight="normal" font-style="normal" font-family="Liberation Sans, sans-serif" fill="#000" >12</text>
<text x="587.20" y="674.72" font-size="11.5" text-anchor="middle" font-weight="normal" font-style="normal" font-family="Liberation Sans, sans-serif" fill="#000" >14</text>
<text x="616.90" y="674.72" font-size="11.5" text-anchor="middle" font-weight="normal" font-style="normal" font-family="Liberation Sans, sans-serif" fill="#000" >16</text>
<text x="380.00" y="455.00" font-size="11.6" font-family="Liberation Sans, sans-serif">x 10<tspan font-size="8.35" dy="-5.80">−3</tspan></text>
<text x="484.50" y="687.70" font-size="14.5" font-family="Liberation Serif, serif" text-anchor="start" textLength="54.5" lengthAdjust="spacingAndGlyphs"><tspan font-style="italic">x</tspan><tspan font-size="10.44" dy="2.90">1</tspan><tspan dy="-2.90"> (mm)</tspan></text>
<text x="360.30" y="558.60" font-size="14.5" font-family="Liberation Serif, serif" text-anchor="middle" transform="rotate(-90 360.3 558.6)" textLength="17.8" lengthAdjust="spacingAndGlyphs"><tspan font-style="italic">ϵ</tspan><tspan font-size="10.44" dy="2.90">22</tspan></text>
<text x="12.00" y="699.00" font-size="16.9" text-anchor="start" font-weight="bold" font-style="normal" font-family="Liberation Sans, sans-serif" fill="#000" >(g)</text>
<line x1="62.58999999999999" y1="711.8" x2="62.58999999999999" y2="916.0" stroke="#000" stroke-width="0.7" stroke-dasharray="1 2.2"/>
<line x1="115.79499999999999" y1="711.8" x2="115.79499999999999" y2="916.0" stroke="#000" stroke-width="0.7" stroke-dasharray="1 2.2"/>
<line x1="169.0" y1="711.8" x2="169.0" y2="916.0" stroke="#000" stroke-width="0.7" stroke-dasharray="1 2.2"/>
<line x1="222.205" y1="711.8" x2="222.205" y2="916.0" stroke="#000" stroke-width="0.7" stroke-dasharray="1 2.2"/>
<line x1="275.41" y1="711.8" x2="275.41" y2="916.0" stroke="#000" stroke-width="0.7" stroke-dasharray="1 2.2"/>
<line x1="38.2" y1="737.3249999999999" x2="300.0" y2="737.3249999999999" stroke="#000" stroke-width="0.7" stroke-dasharray="1 2.2"/>
<line x1="38.2" y1="762.8499999999999" x2="300.0" y2="762.8499999999999" stroke="#000" stroke-width="0.7" stroke-dasharray="1 2.2"/>
<line x1="38.2" y1="788.375" x2="300.0" y2="788.375" stroke="#000" stroke-width="0.7" stroke-dasharray="1 2.2"/>
<line x1="38.2" y1="813.9" x2="300.0" y2="813.9" stroke="#000" stroke-width="0.7" stroke-dasharray="1 2.2"/>
<line x1="38.2" y1="839.425" x2="300.0" y2="839.425" stroke="#000" stroke-width="0.7" stroke-dasharray="1 2.2"/>
<line x1="38.2" y1="864.9499999999999" x2="300.0" y2="864.9499999999999" stroke="#000" stroke-width="0.7" stroke-dasharray="1 2.2"/>
<line x1="38.2" y1="890.4749999999999" x2="300.0" y2="890.4749999999999" stroke="#000" stroke-width="0.7" stroke-dasharray="1 2.2"/>
<line x1="38.2" y1="916.0" x2="300.0" y2="916.0" stroke="#000" stroke-width="0.7" stroke-dasharray="1 2.2"/>
<g clip-path="url(#cl11)"><path d="M39.7,895.2 L40.6,888.3 L41.5,879.5 L42.4,862.1 L43.2,848.1 L44.6,849.9 L45.8,853.4 L47.1,865.6 L48.5,874.3 L50.2,869.1 L52.0,865.6 L53.7,862.1 L55.4,858.6 L57.2,855.1 L58.9,851.6 L60.3,837.7 L61.5,827.2 L62.4,820.2 L63.3,816.7 L64.2,823.7 L65.0,830.7 L65.9,837.7 L66.8,841.2 L68.5,839.4 L70.3,837.7 L72.0,838.6 L73.8,837.7 L75.5,834.2 L77.2,830.7 L78.5,827.2 L79.9,823.7 L81.3,825.5 L82.5,827.2 L83.7,830.7 L85.1,834.2 L86.8,839.4 L88.6,844.7 L89.5,858.6 L90.3,869.1 L91.7,879.5 L92.9,888.3 L94.2,884.8 L95.6,879.5 L96.4,862.1 L97.3,848.1 L98.7,835.9 L99.9,823.7 L101.1,815.0 L102.5,806.3 L103.9,799.3 L105.2,792.3 L106.4,781.9 L107.8,771.4 L109.2,764.4 L110.4,759.2 L111.6,757.4 L113.0,755.7 L113.9,752.2 L114.7,748.7 L115.6,740.0 L117.1,750.0 L118.5,761.5 L120.0,769.6 L121.3,766.5 L122.6,766.1 L123.9,766.6 L125.2,764.3 L127.0,763.5 L128.7,762.6 L130.5,767.8 L132.2,771.3 L133.5,774.4 L134.8,778.3 L136.1,781.4 L137.4,785.3 L138.8,786.2 L140.1,781.8 L141.4,781.1 L142.7,780.0 L144.4,769.6 L145.8,762.6 L147.0,757.4 L147.9,755.6 L148.8,753.9 L150.0,762.6 L151.4,769.6 L153.1,768.7 L154.9,767.8 L156.6,770.4 L158.4,773.1 L159.7,772.6 L161.0,772.2 L162.3,772.8 L163.6,771.3 L165.4,766.1 L167.1,760.8 L168.1,752.1 L168.8,746.9 L169.0,841.1 L170.6,837.6 L172.3,837.6 L174.1,832.4 L175.5,835.8 L176.7,841.1 L177.9,851.5 L179.3,865.5 L181.1,867.2 L182.8,869.0 L184.5,870.7 L186.3,872.5 L188.0,869.0 L189.8,867.2 L191.5,870.7 L193.3,869.0 L195.0,865.5 L196.3,867.1 L197.6,865.5 L198.9,864.6 L200.2,863.8 L201.5,862.8 L202.9,860.3 L204.2,856.3 L205.5,855.0 L206.8,851.9 L208.1,849.8 L207.0,844.7 L208.7,839.5 L210.5,832.5 L212.2,818.5 L213.6,806.3 L214.9,801.1 L216.1,809.8 L217.5,818.5 L219.2,815.0 L221.0,813.3 L222.7,822.0 L224.4,830.7 L226.2,837.7 L227.9,844.7 L229.7,837.7 L231.4,827.2 L233.2,829.0 L234.9,830.7 L236.3,822.0 L237.5,813.3 L238.8,809.8 L240.2,806.3 L241.9,795.8 L243.6,785.4 L245.4,776.6 L247.1,767.9 L248.9,760.9 L250.6,763.6 L252.4,766.2 L254.1,760.9 L255.9,757.4 L257.6,755.7 L259.3,754.0 L261.1,757.4 L262.8,762.7 L264.6,765.3 L266.3,767.9 L267.7,774.9 L268.9,781.9 L270.7,790.6 L272.4,797.6 L273.3,806.3 L274.2,815.0 L275.1,822.0 L275.9,827.2 L276.8,829.9 L277.7,830.7 L278.9,825.5 L280.3,818.5 L282.0,806.3 L283.8,795.8 L285.5,790.6 L287.3,787.1 L289.0,788.0 L290.8,788.9 L292.5,788.0 L294.2,787.1 L296.0,788.9 L297.7,790.6 L300.0,792.3" fill="none" stroke="#000" stroke-width="0.75" stroke-linejoin="round" stroke-dasharray="4 1.6 1 1.6"/><path d="M38.0,846.4 L39.7,845.5 L41.5,844.7 L43.2,847.3 L45.0,848.1 L46.7,851.6 L48.5,851.6 L50.2,846.4 L52.0,844.7 L53.7,849.9 L55.4,848.1 L57.2,842.9 L58.9,844.7 L60.7,853.4 L62.4,844.7 L64.2,837.7 L65.9,841.2 L67.7,839.4 L69.4,834.2 L71.1,836.8 L72.9,837.7 L74.6,835.1 L76.4,834.2 L78.1,837.7 L79.9,835.9 L81.6,842.9 L82.5,848.1 L84.2,858.6 L85.4,853.4 L86.8,851.6 L88.6,846.4 L89.5,844.7 L90.8,842.9 L92.1,841.2 L93.8,842.9 L95.6,837.7 L97.3,838.6 L99.1,835.9 L100.8,827.2 L101.7,813.3 L102.5,806.3 L103.9,808.0 L105.2,804.5 L106.0,795.8 L106.9,790.6 L108.1,792.3 L109.5,788.8 L110.9,785.4 L112.1,780.1 L113.4,781.9 L114.7,771.4 L116.1,774.9 L117.4,766.2 L119.1,762.7 L120.0,769.7 L120.9,774.9 L122.1,773.1 L123.5,769.7 L125.2,774.9 L126.6,780.1 L128.0,781.9 L126.7,780.2 L125.3,777.3 L124.0,776.0 L122.7,774.5 L121.3,772.0 L120.0,769.6 L121.7,774.8 L123.5,780.0 L125.2,774.8 L127.0,771.3 L128.7,776.5 L130.5,778.3 L132.2,781.8 L134.0,780.0 L135.7,785.3 L137.4,783.5 L139.2,780.0 L140.9,781.8 L142.7,778.3 L144.4,774.8 L145.8,778.3 L147.0,771.3 L148.3,764.3 L149.7,757.4 L151.0,764.3 L152.3,769.6 L153.5,780.0 L154.9,771.3 L156.6,773.1 L158.4,769.6 L160.1,773.1 L161.9,774.8 L163.6,771.3 L165.4,769.6 L167.1,762.6 L168.0,755.6 L168.8,743.4 L169.0,865.5 L170.6,869.0 L172.3,865.5 L174.1,863.8 L175.8,860.3 L177.6,862.0 L178.9,864.3 L180.2,863.8 L181.9,865.5 L183.2,865.6 L184.5,867.2 L186.3,863.8 L188.0,863.8 L189.8,867.2 L191.5,869.0 L193.3,865.5 L195.0,865.5 L196.7,869.0 L198.5,872.5 L200.2,867.2 L202.0,865.5 L203.7,856.8 L205.5,851.5 L207.2,849.8 L209.0,846.3 L207.0,849.9 L208.4,844.7 L209.6,837.7 L210.8,839.5 L212.2,836.0 L214.0,837.7 L215.7,834.2 L217.1,841.2 L218.3,844.7 L219.2,836.0 L220.1,827.2 L221.0,822.0 L221.8,818.5 L223.1,827.2 L224.4,830.7 L225.8,825.5 L227.1,823.8 L228.3,827.2 L229.7,822.0 L231.4,823.8 L233.2,818.5 L234.6,820.3 L235.8,813.3 L237.0,809.8 L238.4,802.8 L239.8,799.3 L241.0,795.8 L242.2,790.6 L243.6,783.6 L245.0,780.1 L246.3,774.9 L248.0,773.2 L249.7,771.4 L251.5,767.9 L253.2,766.2 L255.0,769.7 L256.7,768.8 L258.0,766.2 L259.3,764.4 L260.7,766.2 L262.0,767.9 L263.2,773.2 L264.6,778.4 L266.0,783.6 L267.2,788.9 L268.4,792.3 L269.8,795.8 L271.6,797.6 L273.3,799.3 L275.1,797.6 L276.8,802.8 L278.5,806.3 L280.3,811.5 L282.0,808.1 L283.8,804.6 L285.2,792.3 L286.4,787.1 L287.3,797.6 L288.1,808.1 L289.9,806.3 L291.2,805.5 L292.5,804.6 L294.2,802.8 L296.0,801.9 L297.7,800.2 L300.0,799.3" fill="none" stroke="#000" stroke-width="1.5" stroke-linejoin="round"/><path d="M38.0,845.5 L39.3,843.8 L40.6,843.8 L41.9,842.5 L43.2,842.9 L44.5,843.8 L45.8,843.8 L47.2,842.6 L48.5,844.7 L50.2,841.2 L52.0,837.7 L53.7,842.9 L55.4,848.1 L56.8,841.2 L58.1,835.9 L59.8,839.4 L61.5,841.2 L62.8,837.7 L64.2,839.4 L65.9,842.0 L67.7,841.2 L69.4,842.9 L71.1,842.9 L72.9,839.4 L74.6,834.2 L75.5,835.1 L76.4,837.7 L77.8,844.7 L79.0,848.1 L80.2,844.7 L81.6,844.7 L83.0,848.1 L84.2,846.4 L86.0,842.9 L87.7,839.4 L89.5,840.3 L90.8,838.9 L92.1,837.7 L93.8,834.2 L95.6,830.7 L97.3,828.1 L99.1,825.5 L99.9,818.5 L100.8,809.8 L102.2,808.9 L103.4,809.8 L104.6,811.5 L106.0,813.3 L106.9,802.8 L107.8,792.3 L108.6,795.8 L109.5,797.6 L110.9,794.1 L112.1,792.3 L113.4,785.4 L114.7,778.4 L116.5,776.6 L118.2,774.9 L120.0,774.0 L121.7,773.1 L123.5,769.7 L124.9,766.2 L126.1,769.7 L128.0,771.4 L126.7,770.7 L125.3,773.9 L124.0,774.1 L122.7,775.8 L121.3,775.3 L120.0,776.5 L121.7,771.3 L123.5,767.8 L125.2,769.6 L127.0,769.6 L128.7,774.8 L130.5,780.0 L132.2,776.5 L134.0,774.8 L135.7,780.0 L137.4,781.8 L138.8,780.3 L140.1,778.3 L141.4,776.3 L142.7,774.8 L144.4,771.3 L146.2,767.8 L147.6,773.1 L148.8,776.5 L150.5,777.4 L152.3,778.3 L154.5,777.4 L156.6,776.5 L158.7,779.2 L160.3,779.9 L161.9,781.8 L164.0,776.5 L166.2,771.3 L167.4,764.3 L168.5,755.6 L169.2,748.6 L169.4,888.2 L170.2,879.5 L171.3,872.5 L172.3,869.0 L174.1,865.5 L175.8,863.8 L177.1,864.3 L178.4,864.6 L179.7,864.2 L181.1,865.5 L182.4,864.8 L183.7,864.6 L185.0,865.5 L186.3,865.5 L188.4,862.0 L189.8,855.0 L190.6,841.1 L191.5,827.1 L192.4,844.6 L193.3,860.3 L195.0,863.8 L196.7,865.5 L198.1,863.8 L199.4,862.0 L200.7,860.0 L202.0,858.5 L203.7,857.6 L205.5,856.8 L207.7,853.3 L210.0,849.8 L208.5,853.1 L207.0,853.4 L208.7,848.2 L210.5,842.9 L212.2,843.8 L214.0,844.7 L215.7,841.2 L217.5,837.7 L219.2,836.0 L221.0,834.2 L222.7,832.5 L224.4,830.7 L226.2,825.5 L227.9,820.3 L229.7,816.8 L231.4,813.3 L233.2,814.2 L234.9,815.0 L236.7,806.3 L238.4,797.6 L240.2,795.0 L241.9,792.3 L243.6,788.0 L245.4,783.6 L247.1,785.4 L248.9,787.1 L250.6,783.6 L252.4,781.9 L254.1,781.0 L255.9,780.1 L257.6,781.0 L259.3,781.9 L260.7,777.5 L262.0,773.2 L263.2,779.3 L264.6,785.4 L266.3,786.2 L268.1,787.1 L269.8,788.9 L271.6,790.6 L273.3,792.3 L275.1,794.1 L276.8,795.0 L278.5,795.8 L279.4,774.9 L280.3,757.4 L281.2,774.9 L282.0,795.8 L283.8,797.6 L285.5,799.3 L286.8,799.8 L288.1,800.2 L289.4,800.2 L290.8,801.1 L292.1,801.6 L293.4,801.9 L294.7,802.0 L296.0,802.8 L297.3,802.5 L298.7,802.6 L300.0,802.8" fill="none" stroke="#0000ff" stroke-width="1.5" stroke-linejoin="round"/><path d="M38.0,836.8 C39.5,837.2 43.8,838.6 46.7,839.4 C49.6,840.2 52.5,841.0 55.4,841.5 C58.4,842.0 61.3,842.6 64.2,842.6 C67.1,842.5 70.1,841.9 72.9,841.2 C75.6,840.4 78.3,838.1 80.7,838.0 C83.2,838.0 85.8,840.9 87.7,840.8 C89.6,840.8 90.8,839.9 92.1,837.7 C93.4,835.4 94.4,830.7 95.6,827.2 C96.7,823.7 97.6,819.9 99.1,816.7 C100.5,813.6 102.8,810.9 104.3,808.0 C105.7,805.1 106.6,802.2 107.8,799.3 C108.9,796.4 109.8,793.2 111.3,790.6 C112.7,788.0 114.5,785.6 116.5,783.6 C118.5,781.6 122.9,778.8 123.5,778.4 C124.1,777.9 119.4,780.9 120.0,780.9 C120.6,780.9 124.9,778.0 127.0,778.3 C129.0,778.6 130.5,781.2 132.2,782.6 C134.0,784.1 135.7,786.9 137.4,787.0 C139.2,787.1 140.9,785.0 142.7,783.5 C144.4,782.1 145.9,779.6 147.9,778.3 C149.9,777.0 152.6,776.8 154.9,775.7 C157.2,774.5 160.0,773.2 161.9,771.3 C163.8,769.4 165.1,765.2 166.2,764.3 C167.3,763.5 168.1,765.8 168.5,766.1 L168.5,867.2 C169.1,866.7 170.8,865.4 172.3,863.8 C173.8,862.2 175.5,858.2 177.6,857.6 C179.6,857.1 182.5,861.0 184.5,860.3 C186.6,859.5 188.3,854.9 189.8,853.3 C191.2,851.7 192.1,849.2 193.3,850.7 C194.4,852.1 195.3,861.0 196.7,862.0 C198.2,863.0 200.3,858.5 202.0,856.8 C203.7,855.1 205.3,854.3 207.0,851.7 C208.7,849.1 210.2,843.5 212.2,841.2 C214.3,838.9 217.2,839.2 219.2,837.7 C221.2,836.3 222.7,834.8 224.4,832.5 C226.2,830.2 227.9,827.0 229.7,823.8 C231.4,820.6 233.2,817.1 234.9,813.3 C236.7,809.5 238.7,805.1 240.2,801.1 C241.6,797.0 242.5,792.6 243.6,788.9 C244.8,785.1 246.0,779.1 247.1,778.4 C248.3,777.7 249.2,783.2 250.6,784.5 C252.1,785.8 253.8,785.9 255.9,786.2 C257.9,786.5 260.5,785.8 262.8,786.2 C265.2,786.7 267.5,788.0 269.8,788.9 C272.1,789.7 274.2,790.6 276.8,791.5 C279.4,792.3 282.6,793.2 285.5,794.1 C288.4,795.0 291.6,795.8 294.2,796.7 C296.9,797.6 300.1,799.2 301.2,799.7 " fill="none" stroke="#ff0000" stroke-width="1.5" stroke-linejoin="round"/></g>
<text x="218.5" y="726.7" font-size="14" font-family="Liberation Serif, serif" textLength="76.9" lengthAdjust="spacingAndGlyphs"><tspan font-style="italic">x</tspan><tspan font-size="9.5" dy="2.5">1</tspan><tspan dy="-2.5"> = 85 (mm)</tspan></text>
<line x1="44.2" y1="720.6" x2="61.6" y2="720.6" stroke="#000" stroke-width="0.8" stroke-dasharray="4 1.5 1 1.5"/>
<text x="63.60" y="723.66" font-size="8.5" text-anchor="start" font-weight="normal" font-style="normal" font-family="Liberation Sans, sans-serif" fill="#000" >Subset = 21</text>
<line x1="44.2" y1="730.4" x2="61.6" y2="730.4" stroke="#000" stroke-width="1.4"/>
<text x="63.60" y="733.46" font-size="8.5" text-anchor="start" font-weight="normal" font-style="normal" font-family="Liberation Sans, sans-serif" fill="#000" >Subset = 31</text>
<line x1="44.2" y1="740.2" x2="61.6" y2="740.2" stroke="#0000ff" stroke-width="1.4"/>
<text x="63.60" y="743.26" font-size="8.5" text-anchor="start" font-weight="normal" font-style="normal" font-family="Liberation Sans, sans-serif" fill="#000" >Subset = 41</text>
<line x1="44.2" y1="749.8" x2="61.6" y2="749.8" stroke="#ff0000" stroke-width="1.4"/>
<text x="63.60" y="752.86" font-size="8.5" text-anchor="start" font-weight="normal" font-style="normal" font-family="Liberation Sans, sans-serif" fill="#000" >Subset = 41 – filtered</text>
<rect x="40.1" y="714.2" width="102.80000000000001" height="41.09999999999991" fill="none" stroke="#000" stroke-width="0.8"/>
<rect x="38.2" y="711.8" width="261.8" height="204.20000000000005" fill="none" stroke="#000" stroke-width="0.9"/>
<line x1="62.58999999999999" y1="916.0" x2="62.58999999999999" y2="913.5" stroke="#000" stroke-width="0.8"/>
<line x1="62.58999999999999" y1="711.8" x2="62.58999999999999" y2="714.3" stroke="#000" stroke-width="0.8"/>
<line x1="115.79499999999999" y1="916.0" x2="115.79499999999999" y2="913.5" stroke="#000" stroke-width="0.8"/>
<line x1="115.79499999999999" y1="711.8" x2="115.79499999999999" y2="714.3" stroke="#000" stroke-width="0.8"/>
<line x1="169.0" y1="916.0" x2="169.0" y2="913.5" stroke="#000" stroke-width="0.8"/>
<line x1="169.0" y1="711.8" x2="169.0" y2="714.3" stroke="#000" stroke-width="0.8"/>
<line x1="222.205" y1="916.0" x2="222.205" y2="913.5" stroke="#000" stroke-width="0.8"/>
<line x1="222.205" y1="711.8" x2="222.205" y2="714.3" stroke="#000" stroke-width="0.8"/>
<line x1="275.41" y1="916.0" x2="275.41" y2="913.5" stroke="#000" stroke-width="0.8"/>
<line x1="275.41" y1="711.8" x2="275.41" y2="714.3" stroke="#000" stroke-width="0.8"/>
<line x1="38.2" y1="711.8" x2="40.7" y2="711.8" stroke="#000" stroke-width="0.8"/>
<line x1="300.0" y1="711.8" x2="297.5" y2="711.8" stroke="#000" stroke-width="0.8"/>
<line x1="38.2" y1="737.3249999999999" x2="40.7" y2="737.3249999999999" stroke="#000" stroke-width="0.8"/>
<line x1="300.0" y1="737.3249999999999" x2="297.5" y2="737.3249999999999" stroke="#000" stroke-width="0.8"/>
<line x1="38.2" y1="762.8499999999999" x2="40.7" y2="762.8499999999999" stroke="#000" stroke-width="0.8"/>
<line x1="300.0" y1="762.8499999999999" x2="297.5" y2="762.8499999999999" stroke="#000" stroke-width="0.8"/>
<line x1="38.2" y1="788.375" x2="40.7" y2="788.375" stroke="#000" stroke-width="0.8"/>
<line x1="300.0" y1="788.375" x2="297.5" y2="788.375" stroke="#000" stroke-width="0.8"/>
<line x1="38.2" y1="813.9" x2="40.7" y2="813.9" stroke="#000" stroke-width="0.8"/>
<line x1="300.0" y1="813.9" x2="297.5" y2="813.9" stroke="#000" stroke-width="0.8"/>
<line x1="38.2" y1="839.425" x2="40.7" y2="839.425" stroke="#000" stroke-width="0.8"/>
<line x1="300.0" y1="839.425" x2="297.5" y2="839.425" stroke="#000" stroke-width="0.8"/>
<line x1="38.2" y1="864.9499999999999" x2="40.7" y2="864.9499999999999" stroke="#000" stroke-width="0.8"/>
<line x1="300.0" y1="864.9499999999999" x2="297.5" y2="864.9499999999999" stroke="#000" stroke-width="0.8"/>
<line x1="38.2" y1="890.4749999999999" x2="40.7" y2="890.4749999999999" stroke="#000" stroke-width="0.8"/>
<line x1="300.0" y1="890.4749999999999" x2="297.5" y2="890.4749999999999" stroke="#000" stroke-width="0.8"/>
<line x1="38.2" y1="916.0" x2="40.7" y2="916.0" stroke="#000" stroke-width="0.8"/>
<line x1="300.0" y1="916.0" x2="297.5" y2="916.0" stroke="#000" stroke-width="0.8"/>
<text x="36.20" y="715.92" font-size="11.5" text-anchor="end" font-weight="normal" font-style="normal" font-family="Liberation Sans, sans-serif" fill="#000" >2</text>
<text x="36.20" y="741.44" font-size="11.5" text-anchor="end" font-weight="normal" font-style="normal" font-family="Liberation Sans, sans-serif" fill="#000" >1.5</text>
<text x="36.20" y="766.97" font-size="11.5" text-anchor="end" font-weight="normal" font-style="normal" font-family="Liberation Sans, sans-serif" fill="#000" >1</text>
<text x="36.20" y="792.49" font-size="11.5" text-anchor="end" font-weight="normal" font-style="normal" font-family="Liberation Sans, sans-serif" fill="#000" >0.5</text>
<text x="36.20" y="818.02" font-size="11.5" text-anchor="end" font-weight="normal" font-style="normal" font-family="Liberation Sans, sans-serif" fill="#000" >0</text>
<text x="36.20" y="843.54" font-size="11.5" text-anchor="end" font-weight="normal" font-style="normal" font-family="Liberation Sans, sans-serif" fill="#000" >−0.5</text>
<text x="36.20" y="869.07" font-size="11.5" text-anchor="end" font-weight="normal" font-style="normal" font-family="Liberation Sans, sans-serif" fill="#000" >−1</text>
<text x="36.20" y="894.59" font-size="11.5" text-anchor="end" font-weight="normal" font-style="normal" font-family="Liberation Sans, sans-serif" fill="#000" >−1.5</text>
<text x="36.20" y="920.12" font-size="11.5" text-anchor="end" font-weight="normal" font-style="normal" font-family="Liberation Sans, sans-serif" fill="#000" >−2</text>
<text x="62.59" y="929.92" font-size="11.5" text-anchor="middle" font-weight="normal" font-style="normal" font-family="Liberation Sans, sans-serif" fill="#000" >−30</text>
<text x="115.79" y="929.92" font-size="11.5" text-anchor="middle" font-weight="normal" font-style="normal" font-family="Liberation Sans, sans-serif" fill="#000" >−15</text>
<text x="169.00" y="929.92" font-size="11.5" text-anchor="middle" font-weight="normal" font-style="normal" font-family="Liberation Sans, sans-serif" fill="#000" >0</text>
<text x="222.21" y="929.92" font-size="11.5" text-anchor="middle" font-weight="normal" font-style="normal" font-family="Liberation Sans, sans-serif" fill="#000" >15</text>
<text x="275.41" y="929.92" font-size="11.5" text-anchor="middle" font-weight="normal" font-style="normal" font-family="Liberation Sans, sans-serif" fill="#000" >30</text>
<text x="37.70" y="708.40" font-size="11.6" font-family="Liberation Sans, sans-serif">x 10<tspan font-size="8.35" dy="-5.80">−3</tspan></text>
<text x="142.40" y="942.00" font-size="14.5" font-family="Liberation Serif, serif" text-anchor="start" textLength="55.2" lengthAdjust="spacingAndGlyphs"><tspan font-style="italic">x</tspan><tspan font-size="10.44" dy="2.90">2</tspan><tspan dy="-2.90"> (mm)</tspan></text>
<text x="8.80" y="814.00" font-size="14.5" font-family="Liberation Serif, serif" text-anchor="middle" transform="rotate(-90 8.8 814)" textLength="17.8" lengthAdjust="spacingAndGlyphs"><tspan font-style="italic">ϵ</tspan><tspan font-size="10.44" dy="2.90">22</tspan></text>
<text x="362.50" y="698.70" font-size="16.9" text-anchor="start" font-weight="bold" font-style="normal" font-family="Liberation Sans, sans-serif" fill="#000" >(h)</text>
<line x1="424.09999999999997" y1="711.8" x2="424.09999999999997" y2="916.0" stroke="#000" stroke-width="0.7" stroke-dasharray="1 2.2"/>
<line x1="468.0" y1="711.8" x2="468.0" y2="916.0" stroke="#000" stroke-width="0.7" stroke-dasharray="1 2.2"/>
<line x1="511.9" y1="711.8" x2="511.9" y2="916.0" stroke="#000" stroke-width="0.7" stroke-dasharray="1 2.2"/>
<line x1="555.8" y1="711.8" x2="555.8" y2="916.0" stroke="#000" stroke-width="0.7" stroke-dasharray="1 2.2"/>
<line x1="599.6999999999999" y1="711.8" x2="599.6999999999999" y2="916.0" stroke="#000" stroke-width="0.7" stroke-dasharray="1 2.2"/>
<line x1="380.1" y1="740.957" x2="643.5" y2="740.957" stroke="#000" stroke-width="0.7" stroke-dasharray="1 2.2"/>
<line x1="380.1" y1="770.1139999999999" x2="643.5" y2="770.1139999999999" stroke="#000" stroke-width="0.7" stroke-dasharray="1 2.2"/>
<line x1="380.1" y1="799.271" x2="643.5" y2="799.271" stroke="#000" stroke-width="0.7" stroke-dasharray="1 2.2"/>
<line x1="380.1" y1="828.428" x2="643.5" y2="828.428" stroke="#000" stroke-width="0.7" stroke-dasharray="1 2.2"/>
<line x1="380.1" y1="857.5849999999999" x2="643.5" y2="857.5849999999999" stroke="#000" stroke-width="0.7" stroke-dasharray="1 2.2"/>
<line x1="380.1" y1="886.742" x2="643.5" y2="886.742" stroke="#000" stroke-width="0.7" stroke-dasharray="1 2.2"/>
<line x1="380.1" y1="915.8989999999999" x2="643.5" y2="915.8989999999999" stroke="#000" stroke-width="0.7" stroke-dasharray="1 2.2"/>
<g clip-path="url(#cl12)"><path d="M400.1,869.1 L401.3,856.9 L402.7,844.7 L404.1,830.7 L405.3,816.7 L406.2,795.8 L407.0,774.9 L407.6,754.0 L407.9,740.0 L408.4,766.2 L408.8,792.3 L409.3,813.3 L409.7,830.7 L410.5,820.2 L411.4,809.8 L412.3,795.8 L413.1,783.6 L414.0,774.9 L414.9,766.2 L416.1,759.2 L417.5,754.0 L418.7,748.7 L420.1,745.2 L421.0,754.0 L421.9,762.7 L423.6,771.4 L425.4,780.1 L427.1,784.5 L428.8,788.8 L430.2,797.6 L431.5,804.5 L432.7,797.6 L434.1,790.6 L435.8,787.1 L437.6,783.6 L439.3,779.2 L441.1,774.9 L441.9,772.3 L442.8,769.7 L444.2,774.0 L445.4,778.4 L446.6,781.9 L448.0,785.4 L449.4,788.0 L450.6,790.6 L451.9,794.1 L453.3,797.6 L454.7,802.8 L455.9,808.0 L457.6,805.4 L458.9,804.8 L460.2,802.8 L461.5,802.9 L462.9,808.0 L464.2,809.6 L465.5,813.3 L467.7,811.5 L470.0,809.8 L468.8,808.8 L467.5,809.6 L466.3,806.5 L465.0,805.4 L465.9,808.8 L466.7,812.3 L468.5,808.0 L470.2,803.6 L472.3,797.5 L474.6,791.4 L476.9,795.8 L479.0,800.1 L480.7,799.2 L482.4,798.4 L483.8,797.8 L485.1,801.9 L486.4,804.0 L487.7,805.4 L489.0,803.2 L490.3,804.5 L491.6,805.8 L492.9,803.6 L494.7,806.2 L496.4,808.8 L498.1,810.6 L499.9,812.3 L501.6,813.2 L503.4,814.1 L505.1,813.2 L506.9,812.3 L508.6,813.2 L510.4,814.1 L511.4,868.1 L512.6,868.7 L513.8,869.9 L515.6,868.1 L517.3,866.4 L519.1,868.1 L520.8,869.9 L522.9,873.4 L525.2,876.9 L526.4,874.3 L527.8,871.6 L529.5,869.9 L531.3,868.1 L533.0,864.7 L534.8,861.2 L536.5,858.6 L538.3,855.9 L540.0,854.2 L541.7,852.4 L543.5,851.6 L545.2,850.7 L547.0,852.4 L548.7,854.2 L550.5,855.9 L552.2,857.7 L553.6,861.9 L555.0,861.2 L553.5,857.5 L552.0,854.2 L553.3,855.4 L554.6,859.4 L555.9,860.0 L557.2,864.7 L558.5,865.9 L559.8,868.1 L561.2,870.5 L562.5,871.6 L564.2,872.5 L566.0,873.4 L567.3,871.6 L568.6,866.4 L569.9,863.3 L571.2,859.4 L572.5,860.1 L573.8,862.9 L575.1,865.4 L576.4,866.4 L577.7,867.4 L579.0,872.5 L580.3,876.3 L581.7,878.6 L583.4,879.5 L585.1,880.4 L586.9,886.5 L588.6,892.6 L590.4,885.6 L592.1,878.6 L593.4,874.1 L594.7,871.6 L596.0,870.2 L597.4,864.7 L598.7,856.8 L600.0,849.0 L601.2,856.8 L602.6,864.7 L604.3,859.4 L606.1,854.2 L607.8,849.8 L609.6,845.5 L611.3,841.1 L613.1,836.7 L614.8,834.1 L616.5,831.5 L618.3,832.4 L620.0,833.3 L621.8,828.9 L623.5,824.5 L625.3,827.2 L627.0,829.8 L628.7,834.1 L630.5,838.5 L631.9,841.1 L633.1,843.7" fill="none" stroke="#000" stroke-width="0.75" stroke-linejoin="round" stroke-dasharray="4 1.6 1 1.6"/><path d="M400.1,814.1 L400.9,808.0 L401.8,801.1 L403.0,792.3 L404.4,787.1 L406.5,784.5 L408.8,781.9 L409.7,771.4 L410.5,757.4 L411.4,748.7 L411.9,757.4 L412.4,774.9 L413.1,797.6 L414.0,795.8 L414.9,792.3 L415.8,787.1 L416.6,781.9 L418.0,776.6 L419.2,772.3 L420.5,773.1 L421.9,774.9 L423.6,777.5 L425.4,780.1 L427.1,781.0 L428.8,781.9 L430.6,784.5 L432.3,787.1 L433.7,790.6 L434.9,792.3 L436.2,788.8 L437.6,785.4 L439.0,781.9 L440.2,780.1 L441.4,784.5 L442.8,788.8 L444.2,786.2 L445.4,785.4 L446.6,786.2 L448.0,787.1 L449.4,790.6 L450.6,792.3 L451.9,791.5 L453.3,790.6 L455.0,794.1 L456.7,797.6 L458.1,801.1 L459.4,804.5 L461.1,802.8 L462.4,801.7 L463.7,801.1 L465.5,801.9 L467.2,802.8 L468.6,803.7 L470.0,803.7 L468.3,802.9 L466.7,802.2 L465.0,801.9 L466.7,803.6 L468.5,805.4 L470.2,803.6 L472.0,801.9 L473.7,800.1 L475.5,799.2 L477.2,797.5 L479.0,796.6 L480.7,797.0 L482.4,797.5 L484.2,798.4 L485.9,799.2 L487.7,800.1 L489.4,801.0 L491.2,800.5 L492.9,800.1 L494.7,801.5 L496.4,802.7 L498.1,803.6 L499.9,804.5 L501.6,805.7 L503.4,807.1 L505.1,805.7 L506.9,804.5 L508.6,805.0 L510.7,804.5 L511.4,864.7 L513.8,868.1 L515.6,866.4 L517.3,864.7 L519.1,863.8 L520.8,862.9 L522.6,861.2 L524.3,859.4 L525.4,849.0 L526.1,842.0 L526.7,849.0 L527.4,857.7 L528.5,862.9 L529.5,864.7 L530.9,863.8 L532.2,862.9 L533.4,860.3 L534.8,857.7 L536.5,856.8 L538.3,855.9 L540.0,855.1 L541.7,854.2 L543.5,853.3 L545.2,852.4 L547.0,854.2 L548.7,855.9 L550.5,855.1 L552.2,854.2 L553.6,855.1 L555.0,857.7 L553.5,857.5 L552.0,857.7 L553.3,860.0 L554.6,860.3 L555.9,862.0 L557.2,862.9 L558.5,864.7 L559.8,864.7 L561.2,865.8 L562.5,866.4 L563.8,867.6 L565.1,868.1 L566.4,869.2 L567.7,869.9 L569.0,868.8 L570.3,870.8 L571.6,872.0 L572.9,871.6 L574.2,872.1 L575.5,871.6 L576.9,872.1 L578.2,871.6 L579.5,871.4 L580.8,874.3 L582.1,874.0 L583.4,876.9 L585.1,877.7 L586.9,878.6 L588.6,876.9 L590.4,875.1 L592.1,873.4 L593.9,871.6 L595.6,869.9 L597.4,868.1 L599.1,862.9 L600.8,857.7 L602.6,855.9 L604.3,854.2 L606.1,851.6 L607.8,849.0 L609.6,846.3 L611.3,843.7 L612.7,840.2 L613.9,836.7 L614.8,835.0 L615.7,833.3 L616.5,838.5 L617.4,843.7 L618.6,836.7 L620.0,829.8 L620.7,850.7 L621.4,868.1 L622.1,850.7 L622.6,833.3 L623.9,833.3 L625.3,833.3 L627.0,832.4 L628.7,831.5 L630.5,828.9 L632.2,826.3" fill="none" stroke="#000" stroke-width="1.5" stroke-linejoin="round"/><path d="M400.1,797.6 L401.3,794.1 L402.7,790.6 L404.4,788.0 L406.2,786.2 L407.5,786.0 L408.8,785.4 L410.1,786.7 L411.4,784.5 L413.5,784.0 L415.8,783.6 L417.0,788.0 L418.4,792.3 L420.1,788.8 L421.9,785.4 L423.6,782.7 L425.4,780.1 L427.1,781.9 L428.8,783.6 L430.6,785.4 L432.3,787.1 L433.2,783.6 L434.1,780.1 L434.9,784.5 L435.8,788.8 L437.6,788.0 L439.3,787.1 L441.1,788.8 L442.8,790.6 L444.5,790.2 L446.3,789.7 L448.0,790.6 L449.8,791.5 L451.5,790.6 L453.3,789.7 L455.0,792.0 L456.7,794.1 L458.1,795.7 L459.4,795.8 L460.7,797.5 L462.0,797.6 L463.3,798.5 L464.6,798.4 L465.9,799.1 L467.2,799.3 L468.6,800.7 L470.0,801.1 L468.3,800.4 L466.7,799.4 L465.0,799.2 L466.7,800.5 L468.5,801.9 L470.2,800.1 L472.0,798.4 L473.7,799.8 L475.5,801.0 L477.2,800.1 L479.0,799.2 L480.7,798.4 L482.4,797.5 L484.2,798.7 L485.9,800.1 L487.7,799.8 L489.4,799.2 L490.8,796.6 L492.0,794.0 L492.9,797.0 L493.8,800.1 L495.0,801.0 L496.4,801.9 L498.1,801.9 L499.9,801.9 L501.6,802.2 L503.4,802.7 L505.1,802.7 L506.9,802.7 L508.6,801.9 L510.7,800.1 L511.4,862.9 L513.8,862.9 L515.6,862.9 L517.3,862.0 L519.1,861.2 L520.8,860.8 L522.6,860.3 L523.9,859.4 L525.2,859.8 L526.5,858.8 L527.8,859.4 L529.5,857.3 L531.3,855.1 L533.0,855.9 L534.8,856.8 L536.5,857.3 L538.3,857.7 L540.0,856.8 L541.7,855.9 L543.5,856.3 L545.2,856.8 L547.0,857.7 L548.7,858.6 L550.3,859.1 L551.9,859.1 L553.4,859.7 L555.0,859.4 L553.5,861.1 L552.0,860.3 L553.3,861.3 L554.6,861.5 L555.9,862.5 L557.2,862.9 L558.5,864.8 L559.8,865.5 L561.2,866.9 L562.5,868.1 L563.8,867.3 L565.1,869.0 L566.4,870.3 L567.7,869.9 L569.0,870.1 L570.3,870.8 L571.6,871.4 L572.9,871.6 L574.2,871.3 L575.5,871.3 L576.9,873.2 L578.2,870.8 L579.5,872.5 L580.8,872.5 L582.1,873.3 L583.4,873.4 L585.1,870.8 L586.9,868.1 L588.6,869.9 L590.4,871.6 L592.1,869.9 L593.9,868.1 L595.6,866.4 L597.4,864.7 L599.1,863.8 L600.8,862.9 L602.6,860.3 L604.3,857.7 L606.1,856.8 L607.8,855.9 L609.6,851.6 L611.3,847.2 L612.7,843.7 L613.9,840.2 L614.8,854.2 L615.7,868.1 L616.2,880.4 L616.9,889.9 L617.4,868.1 L617.9,847.2 L620.0,845.5 L621.8,843.7 L623.1,842.1 L624.4,842.0 L625.7,841.8 L627.0,840.2 L628.7,838.5 L630.5,836.7 L632.2,834.1 L633.1,831.5" fill="none" stroke="#0000ff" stroke-width="1.5" stroke-linejoin="round"/><path d="M400.1,785.4 C400.8,785.6 402.5,786.0 404.4,786.7 C406.3,787.5 409.1,788.8 411.4,789.7 C413.7,790.6 416.0,791.6 418.4,792.3 C420.7,793.1 423.0,793.7 425.4,794.1 C427.7,794.4 429.7,794.4 432.3,794.4 C434.9,794.4 438.1,794.2 441.1,794.1 C444.0,794.0 446.9,793.6 449.8,793.7 C452.7,793.9 455.1,794.5 458.5,794.9 C461.9,795.4 468.9,796.6 470.0,796.7 C471.1,796.8 464.1,795.5 465.0,795.8 C465.9,796.0 472.0,797.4 475.5,798.0 C479.0,798.6 482.4,799.2 485.9,799.2 C489.4,799.3 493.5,798.7 496.4,798.4 C499.3,798.1 500.8,797.8 503.4,797.5 C505.9,797.2 510.4,796.8 511.7,796.6 L511.7,860.8 C512.7,860.8 514.9,861.1 517.3,860.8 C519.7,860.6 523.1,859.6 526.1,859.4 C529.0,859.2 531.9,859.5 534.8,859.8 C537.7,860.1 540.1,860.6 543.5,861.2 C546.9,861.7 553.6,863.1 555.0,862.9 C556.4,862.8 551.0,860.2 552.0,860.3 C553.0,860.4 557.8,862.9 560.7,863.8 C563.6,864.7 566.5,865.4 569.4,865.5 C572.4,865.7 575.3,865.1 578.2,864.7 C581.1,864.2 584.0,863.8 586.9,862.9 C589.8,862.0 593.0,860.6 595.6,859.4 C598.2,858.3 600.5,856.8 602.6,855.9 C604.6,855.1 605.8,854.2 607.8,854.2 C609.9,854.2 612.5,855.1 614.8,855.9 C617.1,856.8 619.7,858.3 621.8,859.4 C623.8,860.6 625.4,862.0 627.0,862.9 C628.6,863.8 630.3,865.2 631.4,864.7 C632.4,864.1 632.8,860.3 633.1,859.4 " fill="none" stroke="#ff0000" stroke-width="1.5" stroke-linejoin="round"/></g>
<text x="388.9" y="726.7" font-size="14" font-family="Liberation Serif, serif" textLength="76" lengthAdjust="spacingAndGlyphs"><tspan font-style="italic">x</tspan><tspan font-size="9.5" dy="2.5">1</tspan><tspan dy="-2.5"> = 12 (mm)</tspan></text>
<line x1="540.4" y1="720.9" x2="557.7" y2="720.9" stroke="#000" stroke-width="0.8" stroke-dasharray="4 1.5 1 1.5"/>
<text x="560.20" y="723.96" font-size="8.5" text-anchor="start" font-weight="normal" font-style="normal" font-family="Liberation Sans, sans-serif" fill="#000" >Subset = 21</text>
<line x1="540.4" y1="730.5" x2="557.7" y2="730.5" stroke="#000" stroke-width="1.4"/>
<text x="560.20" y="733.56" font-size="8.5" text-anchor="start" font-weight="normal" font-style="normal" font-family="Liberation Sans, sans-serif" fill="#000" >Subset = 31</text>
<line x1="540.4" y1="740.2" x2="557.7" y2="740.2" stroke="#0000ff" stroke-width="1.4"/>
<text x="560.20" y="743.26" font-size="8.5" text-anchor="start" font-weight="normal" font-style="normal" font-family="Liberation Sans, sans-serif" fill="#000" >Subset = 41</text>
<line x1="540.4" y1="749.9" x2="557.7" y2="749.9" stroke="#ff0000" stroke-width="1.4"/>
<text x="560.20" y="752.96" font-size="8.5" text-anchor="start" font-weight="normal" font-style="normal" font-family="Liberation Sans, sans-serif" fill="#000" >Subset = 41 – filtered</text>
<rect x="537" y="714.2" width="103.79999999999995" height="41.39999999999998" fill="none" stroke="#000" stroke-width="0.8"/>
<rect x="380.1" y="711.8" width="263.4" height="204.20000000000005" fill="none" stroke="#000" stroke-width="0.9"/>
<line x1="380.2" y1="916.0" x2="380.2" y2="913.5" stroke="#000" stroke-width="0.8"/>
<line x1="380.2" y1="711.8" x2="380.2" y2="714.3" stroke="#000" stroke-width="0.8"/>
<line x1="424.09999999999997" y1="916.0" x2="424.09999999999997" y2="913.5" stroke="#000" stroke-width="0.8"/>
<line x1="424.09999999999997" y1="711.8" x2="424.09999999999997" y2="714.3" stroke="#000" stroke-width="0.8"/>
<line x1="468.0" y1="916.0" x2="468.0" y2="913.5" stroke="#000" stroke-width="0.8"/>
<line x1="468.0" y1="711.8" x2="468.0" y2="714.3" stroke="#000" stroke-width="0.8"/>
<line x1="511.9" y1="916.0" x2="511.9" y2="913.5" stroke="#000" stroke-width="0.8"/>
<line x1="511.9" y1="711.8" x2="511.9" y2="714.3" stroke="#000" stroke-width="0.8"/>
<line x1="555.8" y1="916.0" x2="555.8" y2="913.5" stroke="#000" stroke-width="0.8"/>
<line x1="555.8" y1="711.8" x2="555.8" y2="714.3" stroke="#000" stroke-width="0.8"/>
<line x1="599.6999999999999" y1="916.0" x2="599.6999999999999" y2="913.5" stroke="#000" stroke-width="0.8"/>
<line x1="599.6999999999999" y1="711.8" x2="599.6999999999999" y2="714.3" stroke="#000" stroke-width="0.8"/>
<line x1="643.5999999999999" y1="916.0" x2="643.5999999999999" y2="913.5" stroke="#000" stroke-width="0.8"/>
<line x1="643.5999999999999" y1="711.8" x2="643.5999999999999" y2="714.3" stroke="#000" stroke-width="0.8"/>
<line x1="380.1" y1="711.8" x2="382.6" y2="711.8" stroke="#000" stroke-width="0.8"/>
<line x1="643.5" y1="711.8" x2="641.0" y2="711.8" stroke="#000" stroke-width="0.8"/>
<line x1="380.1" y1="740.957" x2="382.6" y2="740.957" stroke="#000" stroke-width="0.8"/>
<line x1="643.5" y1="740.957" x2="641.0" y2="740.957" stroke="#000" stroke-width="0.8"/>
<line x1="380.1" y1="770.1139999999999" x2="382.6" y2="770.1139999999999" stroke="#000" stroke-width="0.8"/>
<line x1="643.5" y1="770.1139999999999" x2="641.0" y2="770.1139999999999" stroke="#000" stroke-width="0.8"/>
<line x1="380.1" y1="799.271" x2="382.6" y2="799.271" stroke="#000" stroke-width="0.8"/>
<line x1="643.5" y1="799.271" x2="641.0" y2="799.271" stroke="#000" stroke-width="0.8"/>
<line x1="380.1" y1="828.428" x2="382.6" y2="828.428" stroke="#000" stroke-width="0.8"/>
<line x1="643.5" y1="828.428" x2="641.0" y2="828.428" stroke="#000" stroke-width="0.8"/>
<line x1="380.1" y1="857.5849999999999" x2="382.6" y2="857.5849999999999" stroke="#000" stroke-width="0.8"/>
<line x1="643.5" y1="857.5849999999999" x2="641.0" y2="857.5849999999999" stroke="#000" stroke-width="0.8"/>
<line x1="380.1" y1="886.742" x2="382.6" y2="886.742" stroke="#000" stroke-width="0.8"/>
<line x1="643.5" y1="886.742" x2="641.0" y2="886.742" stroke="#000" stroke-width="0.8"/>
<line x1="380.1" y1="915.8989999999999" x2="382.6" y2="915.8989999999999" stroke="#000" stroke-width="0.8"/>
<line x1="643.5" y1="915.8989999999999" x2="641.0" y2="915.8989999999999" stroke="#000" stroke-width="0.8"/>
<text x="378.30" y="715.92" font-size="11.5" text-anchor="end" font-weight="normal" font-style="normal" font-family="Liberation Sans, sans-serif" fill="#000" >4</text>
<text x="378.30" y="745.07" font-size="11.5" text-anchor="end" font-weight="normal" font-style="normal" font-family="Liberation Sans, sans-serif" fill="#000" >3</text>
<text x="378.30" y="774.23" font-size="11.5" text-anchor="end" font-weight="normal" font-style="normal" font-family="Liberation Sans, sans-serif" fill="#000" >2</text>
<text x="378.30" y="803.39" font-size="11.5" text-anchor="end" font-weight="normal" font-style="normal" font-family="Liberation Sans, sans-serif" fill="#000" >1</text>
<text x="378.30" y="832.54" font-size="11.5" text-anchor="end" font-weight="normal" font-style="normal" font-family="Liberation Sans, sans-serif" fill="#000" >0</text>
<text x="378.30" y="861.70" font-size="11.5" text-anchor="end" font-weight="normal" font-style="normal" font-family="Liberation Sans, sans-serif" fill="#000" >−1</text>
<text x="378.30" y="890.86" font-size="11.5" text-anchor="end" font-weight="normal" font-style="normal" font-family="Liberation Sans, sans-serif" fill="#000" >−2</text>
<text x="378.30" y="920.02" font-size="11.5" text-anchor="end" font-weight="normal" font-style="normal" font-family="Liberation Sans, sans-serif" fill="#000" >−3</text>
<text x="380.20" y="929.92" font-size="11.5" text-anchor="middle" font-weight="normal" font-style="normal" font-family="Liberation Sans, sans-serif" fill="#000" >−6</text>
<text x="424.10" y="929.92" font-size="11.5" text-anchor="middle" font-weight="normal" font-style="normal" font-family="Liberation Sans, sans-serif" fill="#000" >−4</text>
<text x="468.00" y="929.92" font-size="11.5" text-anchor="middle" font-weight="normal" font-style="normal" font-family="Liberation Sans, sans-serif" fill="#000" >−2</text>
<text x="511.90" y="929.92" font-size="11.5" text-anchor="middle" font-weight="normal" font-style="normal" font-family="Liberation Sans, sans-serif" fill="#000" >0</text>
<text x="555.80" y="929.92" font-size="11.5" text-anchor="middle" font-weight="normal" font-style="normal" font-family="Liberation Sans, sans-serif" fill="#000" >2</text>
<text x="599.70" y="929.92" font-size="11.5" text-anchor="middle" font-weight="normal" font-style="normal" font-family="Liberation Sans, sans-serif" fill="#000" >4</text>
<text x="643.60" y="929.92" font-size="11.5" text-anchor="middle" font-weight="normal" font-style="normal" font-family="Liberation Sans, sans-serif" fill="#000" >6</text>
<text x="380.00" y="708.40" font-size="11.6" font-family="Liberation Sans, sans-serif">x 10<tspan font-size="8.35" dy="-5.80">−3</tspan></text>
<text x="485.70" y="942.00" font-size="14.5" font-family="Liberation Serif, serif" text-anchor="start" textLength="54.0" lengthAdjust="spacingAndGlyphs"><tspan font-style="italic">x</tspan><tspan font-size="10.44" dy="2.90">2</tspan><tspan dy="-2.90"> (mm)</tspan></text>
<text x="360.80" y="813.30" font-size="14.5" font-family="Liberation Serif, serif" text-anchor="middle" transform="rotate(-90 360.8 813.3)" textLength="17.8" lengthAdjust="spacingAndGlyphs"><tspan font-style="italic">ϵ</tspan><tspan font-size="10.44" dy="2.90">22</tspan></text></svg>
</body></html>
